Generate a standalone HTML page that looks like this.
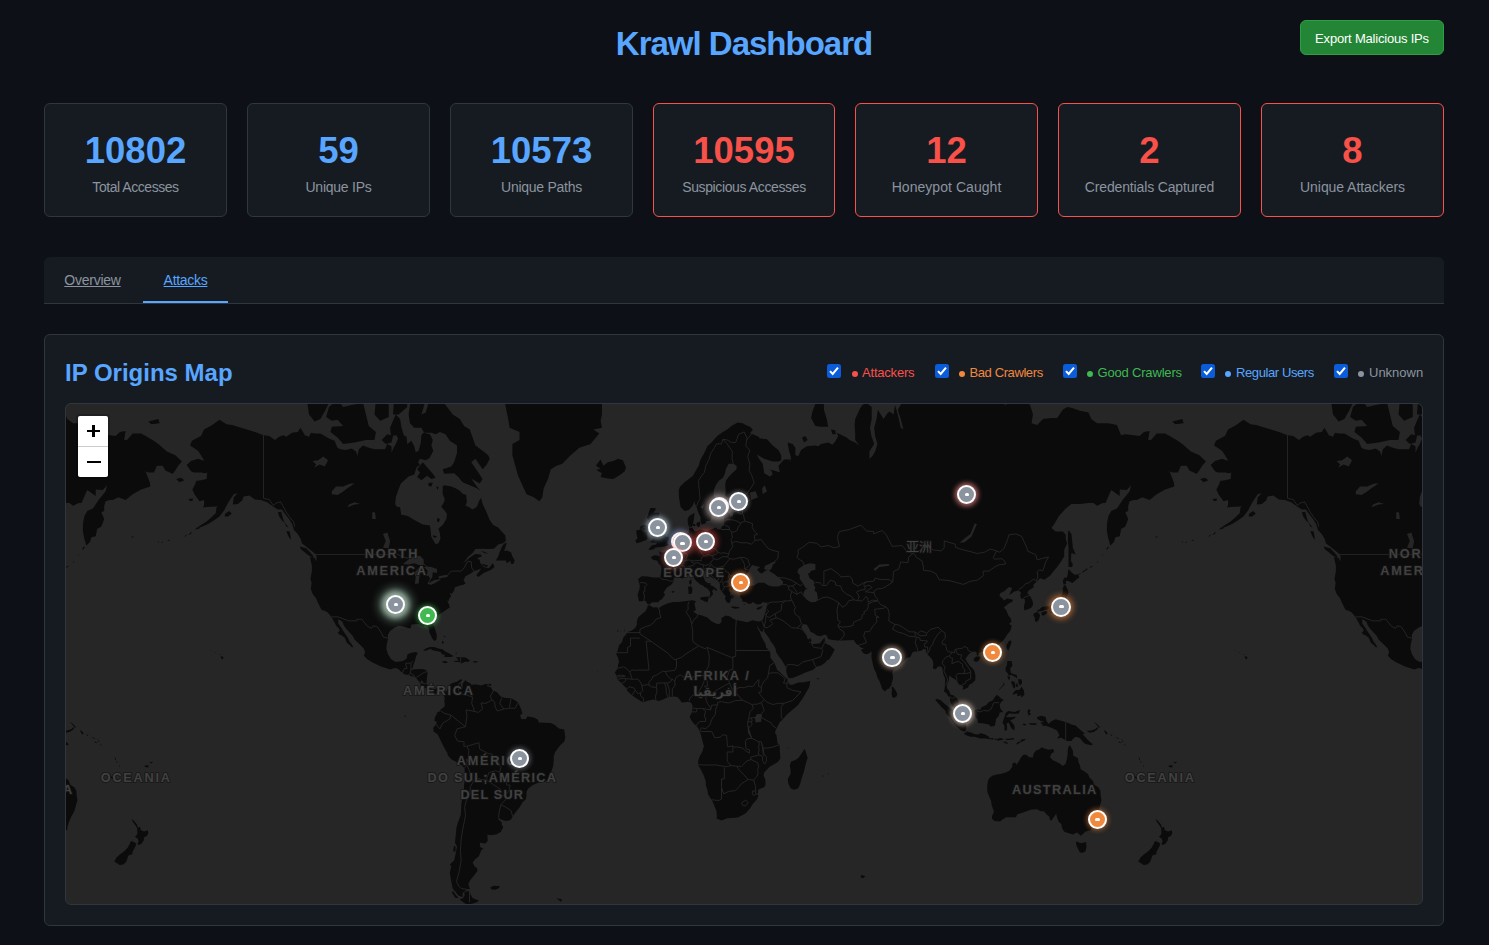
<!DOCTYPE html>
<html lang="en"><head><meta charset="utf-8"><title>Krawl Dashboard</title>
<style>
*{box-sizing:border-box}
html,body{margin:0;padding:0}
body{width:1489px;height:945px;overflow:hidden;background:#0d1117;color:#c9d1d9;font-family:"Liberation Sans",sans-serif;position:relative}
.abs{position:absolute}
h1{position:absolute;left:0;top:21.8px;width:1489px;margin:0;text-align:center;color:#58a6ff;font-size:33px;line-height:44px;font-weight:bold;white-space:nowrap;letter-spacing:-1px;padding-right:1px}
.btn{position:absolute;left:1300px;top:20px;width:144px;height:35px;background:#238636;border:1px solid #2ea043;border-radius:6px;color:#fff;font-size:13px;line-height:36px;text-align:center;white-space:nowrap;letter-spacing:-.2px}
.card{position:absolute;top:103px;height:114px;background:#161b22;border:1px solid #30363d;border-radius:6px;text-align:center}
.card.alert{border-color:#f85149}
.card .v{position:absolute;left:0;right:0;top:25px;font-size:36.5px;line-height:44px;font-weight:bold;color:#58a6ff;white-space:nowrap}
.card.alert .v{color:#f85149}
.card .l{position:absolute;left:0;right:0;top:74px;font-size:14px;line-height:19px;color:#8b949e;white-space:nowrap}
.tabs{position:absolute;left:44px;top:257px;width:1400px;height:47px;background:#161b22;border-bottom:1px solid #30363d;border-radius:6px 6px 0 0}
.tab{position:absolute;top:0;height:46px;border-bottom:2px solid transparent;color:#8b949e;font-size:14px;line-height:19px;padding-top:14px;text-align:center;text-decoration:underline;white-space:nowrap}
.tab.active{color:#58a6ff;border-bottom-color:#58a6ff}
.panel{position:absolute;left:44px;top:334px;width:1400px;height:592px;background:#161b22;border:1px solid #30363d;border-radius:6px}
h2{position:absolute;left:65px;top:356.5px;margin:0;color:#58a6ff;font-size:24px;line-height:32px;font-weight:bold;white-space:nowrap}
.lg{position:absolute;top:364px;font-size:13px;line-height:17px;white-space:nowrap}
.cb{position:absolute;top:364px;width:14px;height:14px;border-radius:2.5px;background:#0b5cd8}
.cb svg{position:absolute;left:0;top:0}
.dot{position:absolute;top:370.5px;width:6px;height:6px;border-radius:50%}
.map{position:absolute;left:65px;top:403px;width:1358px;height:502px;border:1px solid #30363d;border-radius:6px;background:#262626;overflow:hidden}
.map svg.land{position:absolute;left:0;top:0}
.zc{position:absolute;left:10px;top:10px;width:34px;height:65px;border:2px solid rgba(0,0,0,.2);border-radius:4px;background-clip:padding-box}
.zc div{position:absolute;left:0;width:30px;height:30px;background:#fff}
.zc .zi{top:0;border-radius:2px 2px 0 0;border-bottom:1px solid #ccc;height:31px}
.zc .zo{top:31px;border-radius:0 0 2px 2px}
.zc b{position:absolute;background:#000}
.mk{position:absolute;width:19px;height:19px;border:2px solid #fff;border-radius:50%}
.mk i{position:absolute;left:50%;top:50%;margin:-1.4px 0 0 -1.8px;width:4.4px;height:3px;background:#fff;border-radius:1.5px 1.5px 1px 1px}

</style></head>
<body>
<h1>Krawl Dashboard</h1>
<div class="btn">Export Malicious IPs</div>

<div class="card" style="left:44px;width:183px"><div class="v">10802</div><div class="l" style="letter-spacing:-0.45px">Total Accesses</div></div>
<div class="card" style="left:247px;width:183px"><div class="v">59</div><div class="l" style="letter-spacing:-0.25px">Unique IPs</div></div>
<div class="card" style="left:450px;width:183px"><div class="v">10573</div><div class="l" style="letter-spacing:-0.27px">Unique Paths</div></div>
<div class="card alert" style="left:653px;width:182px"><div class="v">10595</div><div class="l" style="letter-spacing:-0.38px">Suspicious Accesses</div></div>
<div class="card alert" style="left:855px;width:183px"><div class="v">12</div><div class="l" style="letter-spacing:0.05px">Honeypot Caught</div></div>
<div class="card alert" style="left:1058px;width:183px"><div class="v">2</div><div class="l" style="letter-spacing:-0.15px">Credentials Captured</div></div>
<div class="card alert" style="left:1261px;width:183px"><div class="v">8</div><div class="l" style="letter-spacing:-0.06px">Unique Attackers</div></div>

<div class="tabs">
  <div class="tab" style="left:0;width:97px;letter-spacing:-.25px">Overview</div>
  <div class="tab active" style="left:99px;width:85px;letter-spacing:-.3px">Attacks</div>
</div>

<div class="panel"></div>
<h2>IP Origins Map</h2>

<div class="cb" style="left:827px"><svg width="14" height="14" viewBox="0 0 13 13"><path d="M2.8 6.6 L5.3 9.2 L10.2 3.4" fill="none" stroke="#fff" stroke-width="1.9"/></svg></div>
<div class="dot" style="left:851.5px;background:#f85149"></div>
<div class="lg" style="left:862px;color:#f85149;letter-spacing:-.2px">Attackers</div>
<div class="cb" style="left:935px"><svg width="14" height="14" viewBox="0 0 13 13"><path d="M2.8 6.6 L5.3 9.2 L10.2 3.4" fill="none" stroke="#fff" stroke-width="1.9"/></svg></div>
<div class="dot" style="left:959px;background:#f0883e"></div>
<div class="lg" style="left:969.5px;color:#f0883e;letter-spacing:-.4px">Bad Crawlers</div>
<div class="cb" style="left:1063px"><svg width="14" height="14" viewBox="0 0 13 13"><path d="M2.8 6.6 L5.3 9.2 L10.2 3.4" fill="none" stroke="#fff" stroke-width="1.9"/></svg></div>
<div class="dot" style="left:1087px;background:#3fb950"></div>
<div class="lg" style="left:1097.5px;color:#3fb950;letter-spacing:-.18px">Good Crawlers</div>
<div class="cb" style="left:1201px"><svg width="14" height="14" viewBox="0 0 13 13"><path d="M2.8 6.6 L5.3 9.2 L10.2 3.4" fill="none" stroke="#fff" stroke-width="1.9"/></svg></div>
<div class="dot" style="left:1225px;background:#58a6ff"></div>
<div class="lg" style="left:1236px;color:#58a6ff;letter-spacing:-.4px">Regular Users</div>
<div class="cb" style="left:1334px"><svg width="14" height="14" viewBox="0 0 13 13"><path d="M2.8 6.6 L5.3 9.2 L10.2 3.4" fill="none" stroke="#fff" stroke-width="1.9"/></svg></div>
<div class="dot" style="left:1358px;background:#8b949e"></div>
<div class="lg" style="left:1369px;color:#8b949e">Unknown</div>

<div class="map">
<svg class="land" width="1356" height="500" viewBox="0 0 1356 500">
<path fill="#0b0b0b" d="M120.7,61.1L125.0,56.9L132.1,54.8L138.4,56.9L135.0,51.2L132.1,46.8L124.1,41.5L125.9,36.8L135.0,32.0L138.1,25.4L146.3,21.1L153.4,15.8L160.6,20.2L166.2,21.1L177.6,24.5L189.0,27.9L197.5,31.2L203.2,32.0L208.9,36.0L213.2,32.8L217.4,31.2L220.3,32.8L226.0,28.7L231.7,27.9L234.5,23.7L238.8,31.2L243.0,32.8L245.0,28.7L248.7,29.5L254.4,29.5L263.0,34.4L268.6,36.8L271.5,43.8L274.3,45.3L280.0,46.0L285.7,44.5L290.0,47.5L291.4,51.9L292.8,45.3L297.1,41.5L302.8,43.8L308.5,45.3L314.2,45.3L319.0,45.3L321.3,39.9L325.5,42.2L325.5,49.0L327.5,43.8L329.8,39.9L332.1,34.4L330.4,31.2L325.0,32.0L324.1,23.7L327.0,16.7L329.8,10.4L334.1,14.9L335.5,23.7L337.8,31.2L340.6,32.8L341.2,39.9L345.4,36.8L348.3,42.2L349.7,48.3L352.6,46.8L354.8,39.1L355.4,31.2L357.4,28.7L363.9,30.3L366.8,36.0L365.4,41.5L367.3,46.8L363.6,54.1L359.7,56.2L354.0,54.8L352.0,58.3L354.0,61.1L350.6,63.2L348.3,70.5L342.6,72.4L339.8,75.0L334.9,79.4L332.6,84.9L329.8,93.2L329.2,100.0L330.7,102.8L334.1,103.3L335.2,110.8L339.8,111.4L342.6,112.4L348.3,116.0L356.8,120.6L363.9,121.6L364.8,127.5L365.1,132.3L367.1,136.0L369.6,140.2L372.5,139.2L374.5,134.6L373.9,129.4L372.5,124.6L376.7,121.1L380.4,115.0L381.0,109.8L378.2,106.0L375.3,102.8L378.2,97.8L378.7,94.9L376.7,90.3L376.7,82.5L378.2,81.3L385.3,82.5L389.5,84.3L393.8,86.7L396.6,89.7L400.1,90.9L400.9,97.8L399.5,101.7L402.3,102.8L406.6,105.5L410.9,102.8L412.9,97.2L415.1,93.8L416.6,100.0L420.0,107.1L423.7,116.0L427.1,121.1L432.2,123.6L435.6,127.5L439.3,131.3L439.9,136.9L437.0,139.2L432.2,140.6L427.9,144.7L422.2,145.1L416.6,144.7L409.4,145.1L406.6,149.1L402.3,152.5L398.1,158.0L396.6,159.3L399.5,157.6L403.8,153.4L409.4,149.9L415.1,150.4L415.7,152.5L410.9,154.2L413.7,155.9L414.3,158.9L416.6,162.2L419.4,163.4L422.8,164.2L425.1,161.4L426.8,158.9L428.5,163.0L425.1,165.8L418.0,168.7L412.3,173.0L410.3,171.0L413.7,167.1L415.1,164.6L410.9,166.3L408.0,167.1L403.8,169.9L399.5,172.2L397.5,176.1L399.5,179.6L397.5,180.7L393.8,181.5L388.7,183.4L388.1,186.4L385.8,190.1L383.8,188.6L385.0,191.9L383.3,194.8L382.4,197.3L381.0,196.6L381.9,198.0L383.3,201.5L383.8,203.6L381.0,205.3L377.3,207.8L373.9,210.1L369.6,213.5L367.6,216.2L367.1,219.5L369.3,226.1L370.8,230.9L370.5,235.6L368.5,236.9L366.2,234.4L363.4,228.6L363.1,224.4L360.2,221.2L356.8,222.5L352.6,219.9L348.3,220.2L345.4,220.5L344.6,224.4L341.2,223.8L337.5,222.5L332.6,221.8L328.9,223.5L324.1,226.7L321.8,230.9L322.1,234.7L320.7,240.3L320.4,245.6L322.1,250.5L324.7,254.7L327.0,256.5L329.8,258.0L334.1,257.4L337.5,256.8L340.6,254.7L341.5,250.2L345.4,248.7L349.7,248.1L351.7,249.0L350.0,252.6L348.9,257.1L347.7,260.1L346.9,263.1L346.0,265.2L349.7,265.2L354.0,264.9L358.2,265.2L361.7,267.5L361.1,271.9L360.8,276.3L360.5,279.2L362.5,282.1L364.8,284.4L368.2,285.6L371.6,283.8L375.3,283.8L378.4,285.9L380.1,287.9L382.4,284.1L383.8,280.7L385.8,279.2L391.0,277.8L393.8,275.7L395.8,275.2L395.8,276.9L394.4,279.2L394.9,282.1L396.6,284.1L396.6,279.8L399.5,276.0L400.9,277.8L404.3,279.2L405.2,280.7L410.9,280.4L415.1,281.5L419.4,280.1L422.2,280.1L420.8,282.1L425.1,283.6L426.5,286.4L430.8,287.9L435.0,292.7L439.3,293.9L445.0,294.2L449.3,296.5L452.1,298.5L455.0,305.0L456.4,309.3L454.1,311.6L455.5,315.3L460.1,315.0L461.2,312.4L463.5,312.7L467.8,313.5L472.0,315.8L472.6,318.4L479.1,318.7L484.8,319.0L489.1,321.2L492.8,324.4L498.2,325.5L499.3,333.5L498.2,337.8L494.8,340.7L492.5,343.6L489.1,348.0L487.7,352.4L487.7,356.8L487.1,362.2L485.4,367.3L484.0,369.7L482.0,374.9L479.1,378.0L475.7,378.0L471.5,378.9L466.9,381.1L462.6,384.2L460.6,387.3L460.4,392.1L459.8,395.3L456.4,398.6L453.5,403.5L450.1,407.5L446.7,412.6L445.0,415.4L442.2,416.7L438.7,416.7L435.0,415.4L432.5,413.6L432.5,415.7L435.6,418.1L435.9,421.6L437.3,422.4L435.0,427.7L430.8,430.3L425.1,431.3L421.4,430.6L421.7,436.9L419.4,439.5L413.7,438.8L414.3,443.3L417.4,444.5L415.1,446.4L412.9,452.3L409.4,455.1L406.6,458.4L408.6,462.5L411.4,464.6L411.2,467.6L406.6,473.2L403.8,476.7L402.3,479.9L404.0,485.8L400.9,485.8L396.6,489.1L396.6,492.9L392.4,491.5L389.5,487.7L386.7,484.5L385.3,477.6L383.8,468.9L385.3,462.5L383.8,460.5L388.1,456.4L389.5,450.4L391.0,442.6L389.0,438.8L389.5,433.2L390.1,427.7L390.4,424.1L391.8,418.8L394.4,411.9L394.9,410.2L395.2,403.5L395.5,398.6L396.6,393.7L397.8,387.3L398.1,381.1L398.9,374.9L398.9,368.8L398.4,364.0L395.2,360.7L391.0,358.3L385.3,355.3L381.6,350.9L381.6,349.5L379.0,345.1L376.7,340.7L374.7,336.4L372.5,332.1L371.0,329.8L367.6,327.8L367.3,323.5L369.9,320.7L371.0,317.8L368.5,317.0L368.8,313.5L370.5,310.7L371.0,308.4L373.9,307.3L374.5,305.6L378.2,303.0L379.0,299.9L378.2,297.9L378.7,295.0L378.2,292.2L377.0,290.2L375.6,287.9L376.7,286.4L373.9,285.0L372.5,285.3L371.0,287.0L369.9,289.6L368.5,290.2L367.6,288.7L366.2,287.9L363.1,287.3L360.5,286.1L360.8,285.0L357.4,282.7L354.8,282.4L354.5,279.2L352.0,276.3L349.7,273.4L349.1,272.5L345.4,272.2L342.6,271.1L338.3,270.2L336.1,268.7L332.6,265.2L329.8,264.0L327.8,264.3L324.1,265.5L319.8,264.0L314.4,262.2L309.9,260.1L305.6,258.0L301.4,255.3L298.5,252.6L297.9,251.4L299.1,248.1L297.7,244.4L296.0,242.8L292.0,238.8L288.6,235.6L287.1,232.5L284.3,229.3L282.9,227.7L280.0,224.4L277.7,221.2L276.6,217.9L274.3,216.2L272.1,215.2L272.3,219.5L275.8,224.4L277.7,227.7L280.0,230.9L282.0,234.1L283.7,237.8L285.7,240.3L287.1,242.8L286.0,243.8L284.9,241.9L280.9,238.8L279.5,235.6L278.6,233.4L275.8,231.5L272.9,230.2L271.8,228.3L273.8,227.0L272.9,224.4L270.1,221.8L268.6,218.5L266.7,215.2L265.5,212.9L261.8,208.4L258.7,206.7L255.6,206.0L253.6,201.9L251.9,198.7L250.2,194.4L246.7,190.1L244.8,184.9L245.6,178.8L244.5,175.0L245.9,167.1L245.9,161.8L243.9,153.0L248.7,153.8L250.2,157.6L250.7,152.5L248.2,149.1L244.5,146.0L238.8,141.5L235.9,139.2L234.5,134.6L231.7,129.9L228.0,126.0L226.0,120.1L223.1,115.0L218.9,109.8L216.0,105.5L211.8,105.5L207.5,102.8L201.2,98.3L194.7,96.1L189.0,95.5L183.3,91.5L177.6,92.6L176.2,96.6L171.9,100.0L166.8,100.6L167.7,93.2L171.9,89.1L167.7,90.3L164.8,94.4L162.0,98.9L160.0,102.8L157.7,107.1L153.4,112.4L147.8,116.5L142.1,120.1L136.4,122.6L133.5,123.6L129.8,124.6L135.0,121.1L140.6,117.6L146.3,112.4L149.7,109.3L150.6,103.3L152.0,102.2L147.8,102.8L143.5,102.8L138.4,103.3L137.2,103.9L138.4,98.9L137.8,96.1L133.5,97.2L130.7,93.2L128.4,90.3L126.4,85.5L129.3,80.0L130.1,76.9L135.0,76.3L140.6,75.0L141.2,68.5L139.2,69.2L135.0,68.5L128.1,68.5L125.0,67.2ZM1144.7,61.1L1149.0,56.9L1156.1,54.8L1162.4,56.9L1159.0,51.2L1156.1,46.8L1148.1,41.5L1149.9,36.8L1159.0,32.0L1162.1,25.4L1170.3,21.1L1177.4,15.8L1184.6,20.2L1190.2,21.1L1201.6,24.5L1213.0,27.9L1221.5,31.2L1227.2,32.0L1232.9,36.0L1237.2,32.8L1241.4,31.2L1244.3,32.8L1250.0,28.7L1255.7,27.9L1258.5,23.7L1262.8,31.2L1267.0,32.8L1269.0,28.7L1272.7,29.5L1278.4,29.5L1287.0,34.4L1292.6,36.8L1295.5,43.8L1298.3,45.3L1304.0,46.0L1309.7,44.5L1314.0,47.5L1315.4,51.9L1316.8,45.3L1321.1,41.5L1326.8,43.8L1332.5,45.3L1338.2,45.3L1343.0,45.3L1345.3,39.9L1349.5,42.2L1349.5,49.0L1351.5,43.8L1353.8,39.9L1356.1,34.4L1354.4,31.2L1349.0,32.0L1348.1,23.7L1351.0,16.7L1353.8,10.4L1358.1,14.9L1359.5,23.7L1361.8,31.2L1364.6,32.8L1365.2,39.9L1369.4,36.8L1372.3,42.2L1373.7,48.3L1376.6,46.8L1378.8,39.1L1379.4,31.2L1381.4,28.7L1387.9,30.3L1390.8,36.0L1389.4,41.5L1391.3,46.8L1387.6,54.1L1383.7,56.2L1378.0,54.8L1376.0,58.3L1378.0,61.1L1374.6,63.2L1372.3,70.5L1366.6,72.4L1363.8,75.0L1358.9,79.4L1356.6,84.9L1353.8,93.2L1353.2,100.0L1354.7,102.8L1358.1,103.3L1359.2,110.8L1363.8,111.4L1366.6,112.4L1372.3,116.0L1380.8,120.6L1387.9,121.6L1388.8,127.5L1389.1,132.3L1391.1,136.0L1393.6,140.2L1396.5,139.2L1398.5,134.6L1397.9,129.4L1396.5,124.6L1400.7,121.1L1404.4,115.0L1405.0,109.8L1402.2,106.0L1399.3,102.8L1402.2,97.8L1402.7,94.9L1400.7,90.3L1400.7,82.5L1402.2,81.3L1409.3,82.5L1413.5,84.3L1417.8,86.7L1420.6,89.7L1424.1,90.9L1424.9,97.8L1423.5,101.7L1426.3,102.8L1430.6,105.5L1434.9,102.8L1436.9,97.2L1439.1,93.8L1440.6,100.0L1444.0,107.1L1447.7,116.0L1451.1,121.1L1456.2,123.6L1459.6,127.5L1463.3,131.3L1463.9,136.9L1461.0,139.2L1456.2,140.6L1451.9,144.7L1446.2,145.1L1440.6,144.7L1433.4,145.1L1430.6,149.1L1426.3,152.5L1422.1,158.0L1420.6,159.3L1423.5,157.6L1427.8,153.4L1433.4,149.9L1439.1,150.4L1439.7,152.5L1434.9,154.2L1437.7,155.9L1438.3,158.9L1440.6,162.2L1443.4,163.4L1446.8,164.2L1449.1,161.4L1450.8,158.9L1452.5,163.0L1449.1,165.8L1442.0,168.7L1436.3,173.0L1434.3,171.0L1437.7,167.1L1439.1,164.6L1434.9,166.3L1432.0,167.1L1427.8,169.9L1423.5,172.2L1421.5,176.1L1423.5,179.6L1421.5,180.7L1417.8,181.5L1412.7,183.4L1412.1,186.4L1409.8,190.1L1407.8,188.6L1409.0,191.9L1407.3,194.8L1406.4,197.3L1405.0,196.6L1405.9,198.0L1407.3,201.5L1407.8,203.6L1405.0,205.3L1401.3,207.8L1397.9,210.1L1393.6,213.5L1391.6,216.2L1391.1,219.5L1393.3,226.1L1394.8,230.9L1394.5,235.6L1392.5,236.9L1390.2,234.4L1387.4,228.6L1387.1,224.4L1384.2,221.2L1380.8,222.5L1376.6,219.9L1372.3,220.2L1369.4,220.5L1368.6,224.4L1365.2,223.8L1361.5,222.5L1356.6,221.8L1352.9,223.5L1348.1,226.7L1345.8,230.9L1346.1,234.7L1344.7,240.3L1344.4,245.6L1346.1,250.5L1348.7,254.7L1351.0,256.5L1353.8,258.0L1358.1,257.4L1361.5,256.8L1364.6,254.7L1365.5,250.2L1369.4,248.7L1373.7,248.1L1375.7,249.0L1374.0,252.6L1372.9,257.1L1371.7,260.1L1370.9,263.1L1370.0,265.2L1373.7,265.2L1378.0,264.9L1382.2,265.2L1385.7,267.5L1385.1,271.9L1384.8,276.3L1384.5,279.2L1386.5,282.1L1388.8,284.4L1392.2,285.6L1395.6,283.8L1399.3,283.8L1402.4,285.9L1404.1,287.9L1406.4,284.1L1407.8,280.7L1409.8,279.2L1415.0,277.8L1417.8,275.7L1419.8,275.2L1419.8,276.9L1418.4,279.2L1418.9,282.1L1420.6,284.1L1420.6,279.8L1423.5,276.0L1424.9,277.8L1428.3,279.2L1429.2,280.7L1434.9,280.4L1439.1,281.5L1443.4,280.1L1446.2,280.1L1444.8,282.1L1449.1,283.6L1450.5,286.4L1454.8,287.9L1459.0,292.7L1463.3,293.9L1469.0,294.2L1473.3,296.5L1476.1,298.5L1479.0,305.0L1480.4,309.3L1478.1,311.6L1479.5,315.3L1484.1,315.0L1485.2,312.4L1487.5,312.7L1491.8,313.5L1496.0,315.8L1496.6,318.4L1503.1,318.7L1508.8,319.0L1513.1,321.2L1516.8,324.4L1522.2,325.5L1523.3,333.5L1522.2,337.8L1518.8,340.7L1516.5,343.6L1513.1,348.0L1511.7,352.4L1511.7,356.8L1511.1,362.2L1509.4,367.3L1508.0,369.7L1506.0,374.9L1503.1,378.0L1499.7,378.0L1495.5,378.9L1490.9,381.1L1486.6,384.2L1484.6,387.3L1484.4,392.1L1483.8,395.3L1480.4,398.6L1477.5,403.5L1474.1,407.5L1470.7,412.6L1469.0,415.4L1466.2,416.7L1462.7,416.7L1459.0,415.4L1456.5,413.6L1456.5,415.7L1459.6,418.1L1459.9,421.6L1461.3,422.4L1459.0,427.7L1454.8,430.3L1449.1,431.3L1445.4,430.6L1445.7,436.9L1443.4,439.5L1437.7,438.8L1438.3,443.3L1441.4,444.5L1439.1,446.4L1436.9,452.3L1433.4,455.1L1430.6,458.4L1432.6,462.5L1435.4,464.6L1435.2,467.6L1430.6,473.2L1427.8,476.7L1426.3,479.9L1428.0,485.8L1424.9,485.8L1420.6,489.1L1420.6,492.9L1416.4,491.5L1413.5,487.7L1410.7,484.5L1409.3,477.6L1407.8,468.9L1409.3,462.5L1407.8,460.5L1412.1,456.4L1413.5,450.4L1415.0,442.6L1413.0,438.8L1413.5,433.2L1414.1,427.7L1414.4,424.1L1415.8,418.8L1418.4,411.9L1418.9,410.2L1419.2,403.5L1419.5,398.6L1420.6,393.7L1421.8,387.3L1422.1,381.1L1422.9,374.9L1422.9,368.8L1422.4,364.0L1419.2,360.7L1415.0,358.3L1409.3,355.3L1405.6,350.9L1405.6,349.5L1403.0,345.1L1400.7,340.7L1398.7,336.4L1396.5,332.1L1395.0,329.8L1391.6,327.8L1391.3,323.5L1393.9,320.7L1395.0,317.8L1392.5,317.0L1392.8,313.5L1394.5,310.7L1395.0,308.4L1397.9,307.3L1398.5,305.6L1402.2,303.0L1403.0,299.9L1402.2,297.9L1402.7,295.0L1402.2,292.2L1401.0,290.2L1399.6,287.9L1400.7,286.4L1397.9,285.0L1396.5,285.3L1395.0,287.0L1393.9,289.6L1392.5,290.2L1391.6,288.7L1390.2,287.9L1387.1,287.3L1384.5,286.1L1384.8,285.0L1381.4,282.7L1378.8,282.4L1378.5,279.2L1376.0,276.3L1373.7,273.4L1373.1,272.5L1369.4,272.2L1366.6,271.1L1362.3,270.2L1360.1,268.7L1356.6,265.2L1353.8,264.0L1351.8,264.3L1348.1,265.5L1343.8,264.0L1338.4,262.2L1333.9,260.1L1329.6,258.0L1325.4,255.3L1322.5,252.6L1321.9,251.4L1323.1,248.1L1321.7,244.4L1320.0,242.8L1316.0,238.8L1312.6,235.6L1311.1,232.5L1308.3,229.3L1306.9,227.7L1304.0,224.4L1301.7,221.2L1300.6,217.9L1298.3,216.2L1296.1,215.2L1296.3,219.5L1299.8,224.4L1301.7,227.7L1304.0,230.9L1306.0,234.1L1307.7,237.8L1309.7,240.3L1311.1,242.8L1310.0,243.8L1308.9,241.9L1304.9,238.8L1303.5,235.6L1302.6,233.4L1299.8,231.5L1296.9,230.2L1295.8,228.3L1297.8,227.0L1296.9,224.4L1294.1,221.8L1292.6,218.5L1290.7,215.2L1289.5,212.9L1285.8,208.4L1282.7,206.7L1279.6,206.0L1277.6,201.9L1275.9,198.7L1274.2,194.4L1270.7,190.1L1268.8,184.9L1269.6,178.8L1268.5,175.0L1269.9,167.1L1269.9,161.8L1267.9,153.0L1272.7,153.8L1274.2,157.6L1274.7,152.5L1272.2,149.1L1268.5,146.0L1262.8,141.5L1259.9,139.2L1258.5,134.6L1255.7,129.9L1252.0,126.0L1250.0,120.1L1247.1,115.0L1242.9,109.8L1240.0,105.5L1235.8,105.5L1231.5,102.8L1225.2,98.3L1218.7,96.1L1213.0,95.5L1207.3,91.5L1201.6,92.6L1200.2,96.6L1195.9,100.0L1190.8,100.6L1191.7,93.2L1195.9,89.1L1191.7,90.3L1188.8,94.4L1186.0,98.9L1184.0,102.8L1181.7,107.1L1177.4,112.4L1171.8,116.5L1166.1,120.1L1160.4,122.6L1157.5,123.6L1153.8,124.6L1159.0,121.1L1164.6,117.6L1170.3,112.4L1173.7,109.3L1174.6,103.3L1176.0,102.2L1171.8,102.8L1167.5,102.8L1162.4,103.3L1161.2,103.9L1162.4,98.9L1161.8,96.1L1157.5,97.2L1154.7,93.2L1152.4,90.3L1150.4,85.5L1153.3,80.0L1154.1,76.9L1159.0,76.3L1164.6,75.0L1165.2,68.5L1163.2,69.2L1159.0,68.5L1152.1,68.5L1149.0,67.2ZM391.0,-59.2L405.2,-78.4L413.7,-103.6L427.9,-122.9L456.4,-133.4L484.8,-151.8L513.3,-159.3L541.7,-122.9L564.5,-111.0L550.2,-86.3L544.6,-63.4L546.0,-37.1L541.7,-19.7L543.1,-9.1L536.0,-1.0L536.0,10.4L534.6,16.7L536.0,23.7L527.5,25.4L533.2,29.5L524.6,39.9L513.3,43.8L504.7,51.2L496.2,59.7L490.5,61.8L484.8,65.2L482.0,75.0L477.7,84.3L476.3,93.2L473.4,97.2L467.8,93.2L460.6,90.3L456.4,81.3L452.1,71.8L449.3,61.8L446.4,51.2L446.4,39.9L453.5,36.0L453.5,27.9L443.6,23.7L442.2,14.9L439.3,0.9L435.0,-14.3L427.9,-28.8L419.4,-33.5L408.0,-31.1L396.6,-43.3ZM-451.0,197.3L-452.4,191.1L-450.7,185.6L-450.1,181.9L-451.9,175.0L-448.2,172.2L-442.5,172.6L-436.8,173.4L-431.1,173.4L-429.7,173.0L-428.8,168.7L-428.5,164.6L-428.8,162.2L-431.7,158.9L-432.5,156.8L-437.6,155.5L-439.1,153.0L-435.4,151.2L-430.0,152.1L-430.8,147.3L-428.8,148.6L-424.8,148.2L-421.1,145.5L-420.3,142.0L-416.9,140.2L-414.0,136.9L-412.0,132.3L-409.8,130.8L-405.5,130.4L-401.8,129.4L-400.9,127.5L-400.7,123.1L-402.1,120.1L-402.4,115.0L-400.9,111.9L-395.5,108.7L-396.1,115.0L-397.0,120.1L-398.1,122.6L-397.0,125.1L-394.7,127.5L-394.1,127.5L-389.8,125.5L-387.0,126.0L-384.7,128.0L-379.9,126.0L-374.2,123.6L-371.9,125.5L-369.1,125.1L-368.5,123.1L-365.7,121.1L-365.7,117.6L-365.7,112.4L-363.7,109.3L-361.1,108.7L-359.4,112.4L-357.1,111.9L-356.0,107.1L-358.6,103.3L-358.6,100.6L-355.1,98.9L-351.4,98.3L-345.8,98.9L-339.5,96.6L-342.9,94.9L-344.3,92.6L-350.0,93.8L-354.3,94.9L-360.0,96.6L-362.3,93.8L-364.8,91.5L-364.2,87.3L-364.8,81.3L-364.2,76.9L-361.4,73.1L-357.1,68.5L-353.4,65.2L-353.4,61.8L-356.6,59.7L-361.4,59.7L-364.2,65.2L-365.1,69.8L-367.1,73.7L-371.4,76.9L-374.2,81.3L-376.2,86.1L-376.5,92.0L-372.8,94.9L-372.8,99.5L-375.6,103.3L-377.9,107.1L-378.2,110.8L-378.8,114.5L-379.9,117.1L-383.6,117.1L-384.7,119.6L-388.4,120.6L-388.7,119.1L-389.6,116.0L-389.3,113.5L-391.6,108.7L-393.5,102.8L-395.0,100.0L-395.5,97.2L-397.5,101.7L-401.2,106.0L-405.5,107.1L-409.5,102.8L-410.6,96.1L-411.2,91.5L-411.2,85.5L-409.8,82.5L-405.5,78.2L-401.2,75.0L-397.0,71.8L-394.1,66.5L-391.3,61.8L-389.8,56.2L-387.0,51.2L-384.2,46.0L-382.7,42.2L-378.5,38.4L-372.8,32.0L-367.1,27.9L-362.8,25.4L-358.6,21.9L-352.3,18.5L-347.2,19.3L-344.3,21.1L-340.1,22.8L-337.2,25.4L-340.1,29.5L-337.2,30.3L-331.5,32.8L-330.1,34.4L-323.0,35.2L-317.3,41.5L-311.6,46.0L-308.8,51.2L-308.8,56.2L-311.6,57.6L-317.3,57.6L-325.8,54.8L-333.0,50.5L-331.5,54.1L-327.3,59.7L-326.4,65.2L-325.8,69.2L-320.2,72.4L-317.3,70.5L-318.7,66.5L-321.6,65.2L-315.9,66.5L-311.6,67.9L-310.2,67.9L-311.6,61.8L-305.9,55.5L-300.2,55.5L-299.7,51.2L-300.2,58.3L-298.8,54.1L-300.8,47.5L-302.2,39.9L-302.2,38.4L-297.4,39.9L-294.6,43.8L-294.6,51.2L-291.7,51.9L-288.9,46.0L-283.2,42.2L-274.6,41.5L-271.8,42.2L-269.0,39.9L-261.8,38.4L-257.6,40.7L-254.7,37.6L-251.9,32.0L-253.3,28.7L-243.4,33.6L-240.5,36.0L-234.8,38.4L-230.6,41.5L-234.8,36.0L-234.8,30.3L-235.4,21.1L-234.8,14.9L-230.6,5.7L-227.7,0.9L-223.4,-1.0L-218.3,2.9L-218.3,14.9L-220.0,23.7L-218.6,32.0L-215.8,39.9L-220.6,47.5L-220.6,54.8L-217.8,52.6L-214.9,47.5L-212.6,39.9L-214.9,32.0L-215.8,23.7L-213.5,14.9L-212.1,5.7L-209.2,10.4L-206.4,14.9L-203.5,10.4L-200.7,7.6L-196.4,10.4L-195.0,0.9L-192.2,10.4L-189.3,23.7L-186.5,25.4L-189.3,14.9L-192.2,5.7L-186.5,-4.0L-179.4,-7.0L-177.9,-14.3L-169.4,-25.3L-155.2,-31.1L-141.0,-37.1L-129.6,-52.4L-121.0,-37.1L-106.8,-37.1L-104.0,-25.3L-112.5,-14.3L-104.0,-6.0L-112.5,-7.0L-121.0,-1.0L-123.9,1.9L-119.6,-3.0L-102.6,-4.0L-98.3,-6.0L-89.8,-1.0L-84.1,0.9L-75.5,-6.0L-67.0,-4.0L-59.9,0.9L-57.0,10.4L-58.5,19.3L-52.8,21.1L-47.1,14.9L-38.6,14.0L-32.9,14.0L-27.2,5.7L-22.9,2.9L-18.6,3.8L-10.1,6.7L-1.6,8.5L1.3,14.9L7.0,19.3L18.3,19.3L26.9,21.1L31.1,31.2L35.4,30.3L43.9,31.2L49.6,32.0L53.9,27.9L59.6,27.0L58.2,36.0L61.0,36.0L66.7,29.5L75.2,29.5L80.9,32.8L86.6,36.0L92.3,39.9L100.8,47.5L109.4,51.2L115.9,57.6L112.2,61.8L107.9,68.5L106.5,69.8L99.4,66.5L96.6,61.8L90.9,61.8L88.0,68.5L82.3,68.5L79.5,67.2L83.8,78.2L84.3,82.5L75.2,85.5L66.7,90.3L59.6,96.1L52.5,93.2L46.8,96.1L43.9,96.1L39.7,97.2L38.2,101.7L38.2,107.1L35.4,108.2L38.2,115.0L35.4,122.6L31.1,125.1L29.7,132.3L25.4,133.2L24.0,137.9L20.3,141.5L18.3,134.6L16.9,127.5L16.9,120.1L18.3,112.4L21.2,107.1L26.9,104.4L32.6,96.1L39.7,87.3L41.1,81.3L36.8,86.1L29.7,85.5L29.7,92.0L21.2,86.1L15.5,98.9L12.6,98.9L7.0,101.7L3.5,98.9L-1.6,98.9L-10.1,100.0L-18.6,100.0L-24.3,104.4L-31.4,112.4L-35.7,120.1L-38.6,124.1L-34.3,127.5L-31.4,127.5L-27.2,127.5L-24.3,130.8L-24.3,134.6L-22.9,139.2L-25.8,146.0L-25.8,152.5L-30.0,158.9L-32.9,163.0L-37.1,167.9L-40.0,171.8L-45.7,175.7L-49.9,174.2L-53.6,177.7L-56.5,180.7L-56.5,183.4L-61.3,186.4L-62.7,189.0L-59.9,191.9L-57.3,197.3L-57.0,200.8L-58.5,203.6L-61.3,205.0L-65.6,206.4L-66.1,202.6L-65.0,198.0L-65.3,195.1L-69.0,194.4L-69.8,191.5L-69.0,188.2L-71.8,186.4L-75.5,187.5L-79.2,190.1L-80.7,190.8L-78.9,186.4L-77.8,184.1L-81.2,183.0L-85.5,187.1L-89.8,189.3L-90.6,191.9L-87.5,194.4L-86.3,196.6L-82.6,194.4L-77.0,195.8L-77.5,197.6L-82.1,200.1L-86.1,203.6L-83.5,206.7L-81.8,211.2L-78.9,214.9L-78.7,217.9L-81.2,219.9L-78.4,221.2L-78.9,224.4L-79.8,227.0L-82.6,230.2L-84.9,234.1L-86.9,236.6L-89.8,239.1L-92.6,241.9L-95.4,243.8L-99.7,245.0L-101.1,245.6L-104.0,246.5L-107.7,247.8L-111.1,248.7L-111.7,251.7L-113.1,251.1L-113.4,248.1L-116.8,247.4L-119.6,248.7L-121.9,251.1L-124.5,254.7L-123.0,257.7L-120.5,261.6L-117.3,264.6L-115.4,267.5L-114.5,271.9L-114.8,276.3L-118.2,279.5L-121.0,281.0L-121.9,283.6L-127.3,286.1L-126.7,282.7L-128.2,281.2L-131.0,280.4L-132.4,278.3L-133.8,276.3L-136.7,274.3L-138.4,273.4L-139.5,271.9L-141.0,272.5L-141.0,276.3L-142.4,279.2L-143.2,282.1L-142.9,284.4L-141.0,286.4L-140.1,289.3L-139.2,290.7L-136.7,291.3L-134.7,293.0L-132.4,295.0L-131.3,297.9L-131.3,300.7L-131.0,303.6L-129.0,306.7L-130.4,307.0L-131.3,306.4L-134.7,304.4L-137.3,302.4L-139.0,299.6L-139.8,296.5L-140.1,293.6L-141.8,292.2L-143.8,288.7L-145.8,287.9L-145.8,286.4L-145.2,283.6L-145.2,280.7L-144.7,277.2L-145.2,273.4L-146.6,270.5L-147.2,267.5L-147.8,263.7L-149.5,262.2L-152.3,262.8L-154.3,265.2L-157.2,264.6L-156.6,260.1L-157.2,256.8L-158.9,254.1L-160.9,252.0L-162.9,250.2L-163.7,248.1L-164.3,245.6L-166.6,244.7L-168.0,246.5L-170.8,247.1L-173.7,247.4L-175.7,247.4L-177.9,248.7L-178.5,250.8L-179.9,252.9L-183.1,254.1L-185.9,257.1L-188.5,259.8L-191.3,262.5L-194.1,264.6L-197.0,265.8L-197.8,269.0L-197.0,272.8L-197.3,275.7L-198.4,279.2L-198.4,281.2L-200.1,282.7L-200.7,284.4L-203.0,285.3L-205.0,287.6L-207.8,285.0L-209.2,280.7L-210.6,276.9L-212.6,273.4L-213.8,269.0L-215.8,265.2L-216.9,261.6L-217.8,257.1L-218.3,255.6L-218.6,251.7L-218.3,249.0L-219.2,246.8L-220.0,249.0L-223.4,250.2L-226.3,249.6L-229.1,245.9L-225.4,243.8L-228.3,244.1L-230.6,242.2L-231.4,241.0L-233.4,240.3L-235.4,237.5L-236.2,236.0L-241.9,236.3L-247.6,236.6L-251.9,236.6L-257.6,236.0L-261.8,235.0L-263.3,231.5L-265.3,230.6L-269.5,232.2L-273.2,231.5L-276.1,229.3L-279.5,227.7L-280.9,224.4L-283.2,220.8L-286.0,219.9L-287.4,221.2L-288.9,222.8L-287.4,226.1L-285.2,229.3L-283.2,231.8L-282.6,234.7L-280.9,235.6L-279.8,233.8L-278.6,236.3L-279.2,238.5L-278.1,240.3L-274.6,239.7L-270.4,239.4L-267.5,236.0L-265.5,233.4L-265.0,237.2L-264.1,239.7L-260.4,241.3L-256.2,244.7L-255.3,245.6L-258.1,251.1L-261.0,255.6L-262.7,256.2L-265.3,258.9L-269.0,261.6L-273.2,262.5L-276.9,265.8L-280.3,266.9L-284.6,268.4L-288.9,270.5L-293.1,272.2L-297.4,274.0L-301.1,274.3L-302.2,272.5L-303.7,268.1L-303.7,263.7L-305.9,260.1L-308.2,256.2L-311.6,251.7L-313.9,248.1L-314.5,244.4L-316.5,241.0L-319.3,237.2L-321.0,234.1L-323.9,229.9L-325.8,227.4L-325.8,222.8L-326.7,226.1L-327.8,228.3L-329.5,226.7L-331.0,225.1L-332.7,221.2L-333.5,217.2L-330.1,217.5L-327.8,216.5L-326.4,213.9L-325.8,211.2L-324.4,208.1L-323.6,204.3L-323.0,201.2L-322.4,198.3L-324.4,198.7L-327.0,198.0L-329.5,200.1L-333.0,200.5L-337.2,198.0L-338.6,199.4L-341.2,200.1L-344.3,198.0L-347.7,197.6L-347.7,195.5L-350.0,192.6L-349.2,190.1L-350.9,188.2L-350.6,186.4L-347.2,184.9L-342.9,184.5L-342.9,182.6L-340.1,181.9L-335.8,181.5L-331.5,178.8L-325.8,178.8L-321.6,181.5L-317.3,182.6L-311.6,182.6L-307.4,180.7L-306.8,177.7L-310.2,174.2L-313.0,172.2L-316.5,169.5L-319.3,167.9L-321.0,166.3L-318.7,165.0L-317.3,160.9L-313.9,158.0L-317.3,158.0L-320.7,160.1L-325.0,161.8L-325.8,165.0L-324.4,165.8L-321.9,165.8L-325.0,167.1L-328.1,169.5L-330.1,168.7L-333.0,165.4L-329.8,163.0L-333.5,162.2L-337.8,160.9L-340.6,165.0L-341.2,167.9L-343.8,170.3L-344.0,173.4L-346.0,175.0L-346.6,177.7L-345.8,179.2L-342.9,181.9L-345.8,182.6L-347.7,183.8L-350.6,185.6L-351.4,184.1L-351.4,183.0L-354.3,183.0L-357.1,183.8L-356.3,185.6L-358.6,186.4L-360.0,184.5L-360.5,184.5L-360.8,187.1L-359.4,189.3L-360.0,190.8L-357.1,193.7L-357.1,194.8L-359.4,194.0L-359.1,195.8L-360.3,198.7L-361.7,199.0L-363.4,198.0L-365.1,194.4L-364.2,192.6L-365.7,190.8L-367.1,189.0L-368.5,187.1L-370.2,184.5L-369.9,180.7L-371.4,178.1L-373.3,176.5L-377.0,174.2L-379.9,172.6L-382.2,169.9L-384.2,166.3L-386.1,167.5L-386.7,164.6L-387.0,164.2L-390.1,165.4L-390.1,168.7L-389.6,171.0L-386.7,172.6L-385.0,176.9L-382.2,179.2L-379.3,179.2L-379.9,181.1L-376.5,182.6L-373.3,185.2L-372.8,186.4L-374.2,186.7L-376.5,184.9L-377.9,187.5L-376.8,190.1L-378.5,191.9L-379.9,193.7L-380.7,193.7L-379.9,191.1L-379.9,188.2L-381.3,186.0L-383.3,184.1L-385.0,183.4L-387.0,181.5L-389.8,180.4L-390.7,179.6L-393.5,177.3L-395.5,175.0L-396.4,171.4L-399.8,169.5L-402.6,171.4L-404.6,172.2L-406.9,174.6L-410.3,173.8L-414.0,173.0L-416.3,174.2L-416.6,176.9L-416.3,177.7L-419.1,181.1L-423.1,183.4L-425.4,187.1L-426.3,188.6L-424.8,191.1L-426.8,193.0L-427.7,195.1L-430.2,196.2L-431.7,198.3L-435.4,198.3L-437.9,198.3L-440.5,200.5L-442.5,200.1L-443.3,199.0L-443.9,197.3L-445.3,196.6L-447.9,197.3ZM573.0,197.3L571.6,191.1L573.3,185.6L573.9,181.9L572.1,175.0L575.8,172.2L581.5,172.6L587.2,173.4L592.9,173.4L594.3,173.0L595.2,168.7L595.5,164.6L595.2,162.2L592.3,158.9L591.5,156.8L586.4,155.5L584.9,153.0L588.6,151.2L594.0,152.1L593.2,147.3L595.2,148.6L599.2,148.2L602.9,145.5L603.7,142.0L607.1,140.2L610.0,136.9L612.0,132.3L614.2,130.8L618.5,130.4L622.2,129.4L623.1,127.5L623.3,123.1L621.9,120.1L621.6,115.0L623.1,111.9L628.5,108.7L627.9,115.0L627.0,120.1L625.9,122.6L627.0,125.1L629.3,127.5L629.9,127.5L634.2,125.5L637.0,126.0L639.3,128.0L644.1,126.0L649.8,123.6L652.1,125.5L654.9,125.1L655.5,123.1L658.3,121.1L658.3,117.6L658.3,112.4L660.3,109.3L662.9,108.7L664.6,112.4L666.9,111.9L668.0,107.1L665.4,103.3L665.4,100.6L668.9,98.9L672.6,98.3L678.2,98.9L684.5,96.6L681.1,94.9L679.7,92.6L674.0,93.8L669.7,94.9L664.0,96.6L661.7,93.8L659.2,91.5L659.8,87.3L659.2,81.3L659.8,76.9L662.6,73.1L666.9,68.5L670.6,65.2L670.6,61.8L667.4,59.7L662.6,59.7L659.8,65.2L658.9,69.8L656.9,73.7L652.6,76.9L649.8,81.3L647.8,86.1L647.5,92.0L651.2,94.9L651.2,99.5L648.4,103.3L646.1,107.1L645.8,110.8L645.2,114.5L644.1,117.1L640.4,117.1L639.3,119.6L635.6,120.6L635.3,119.1L634.4,116.0L634.7,113.5L632.4,108.7L630.5,102.8L629.0,100.0L628.5,97.2L626.5,101.7L622.8,106.0L618.5,107.1L614.5,102.8L613.4,96.1L612.8,91.5L612.8,85.5L614.2,82.5L618.5,78.2L622.8,75.0L627.0,71.8L629.9,66.5L632.7,61.8L634.2,56.2L637.0,51.2L639.8,46.0L641.3,42.2L645.5,38.4L651.2,32.0L656.9,27.9L661.2,25.4L665.4,21.9L671.7,18.5L676.8,19.3L679.7,21.1L683.9,22.8L686.8,25.4L683.9,29.5L686.8,30.3L692.5,32.8L693.9,34.4L701.0,35.2L706.7,41.5L712.4,46.0L715.2,51.2L715.2,56.2L712.4,57.6L706.7,57.6L698.2,54.8L691.0,50.5L692.5,54.1L696.7,59.7L697.6,65.2L698.2,69.2L703.8,72.4L706.7,70.5L705.3,66.5L702.4,65.2L708.1,66.5L712.4,67.9L713.8,67.9L712.4,61.8L718.1,55.5L723.8,55.5L724.3,51.2L723.8,58.3L725.2,54.1L723.2,47.5L721.8,39.9L721.8,38.4L726.6,39.9L729.4,43.8L729.4,51.2L732.3,51.9L735.1,46.0L740.8,42.2L749.4,41.5L752.2,42.2L755.0,39.9L762.2,38.4L766.4,40.7L769.3,37.6L772.1,32.0L770.7,28.7L780.6,33.6L783.5,36.0L789.2,38.4L793.4,41.5L789.2,36.0L789.2,30.3L788.6,21.1L789.2,14.9L793.4,5.7L796.3,0.9L800.6,-1.0L805.7,2.9L805.7,14.9L804.0,23.7L805.4,32.0L808.2,39.9L803.4,47.5L803.4,54.8L806.2,52.6L809.1,47.5L811.4,39.9L809.1,32.0L808.2,23.7L810.5,14.9L811.9,5.7L814.8,10.4L817.6,14.9L820.5,10.4L823.3,7.6L827.6,10.4L829.0,0.9L831.8,10.4L834.7,23.7L837.5,25.4L834.7,14.9L831.8,5.7L837.5,-4.0L844.6,-7.0L846.1,-14.3L854.6,-25.3L868.8,-31.1L883.0,-37.1L894.4,-52.4L903.0,-37.1L917.2,-37.1L920.0,-25.3L911.5,-14.3L920.0,-6.0L911.5,-7.0L903.0,-1.0L900.1,1.9L904.4,-3.0L921.4,-4.0L925.7,-6.0L934.2,-1.0L939.9,0.9L948.5,-6.0L957.0,-4.0L964.1,0.9L967.0,10.4L965.5,19.3L971.2,21.1L976.9,14.9L985.4,14.0L991.1,14.0L996.8,5.7L1001.1,2.9L1005.4,3.8L1013.9,6.7L1022.4,8.5L1025.3,14.9L1031.0,19.3L1042.3,19.3L1050.9,21.1L1055.1,31.2L1059.4,30.3L1067.9,31.2L1073.6,32.0L1077.9,27.9L1083.6,27.0L1082.2,36.0L1085.0,36.0L1090.7,29.5L1099.2,29.5L1104.9,32.8L1110.6,36.0L1116.3,39.9L1124.8,47.5L1133.4,51.2L1139.9,57.6L1136.2,61.8L1131.9,68.5L1130.5,69.8L1123.4,66.5L1120.6,61.8L1114.9,61.8L1112.0,68.5L1106.3,68.5L1103.5,67.2L1107.8,78.2L1108.3,82.5L1099.2,85.5L1090.7,90.3L1083.6,96.1L1076.5,93.2L1070.8,96.1L1067.9,96.1L1063.7,97.2L1062.2,101.7L1062.2,107.1L1059.4,108.2L1062.2,115.0L1059.4,122.6L1055.1,125.1L1053.7,132.3L1049.4,133.2L1048.0,137.9L1044.3,141.5L1042.3,134.6L1040.9,127.5L1040.9,120.1L1042.3,112.4L1045.2,107.1L1050.9,104.4L1056.6,96.1L1063.7,87.3L1065.1,81.3L1060.8,86.1L1053.7,85.5L1053.7,92.0L1045.2,86.1L1039.5,98.9L1036.6,98.9L1031.0,101.7L1027.5,98.9L1022.4,98.9L1013.9,100.0L1005.4,100.0L999.7,104.4L992.6,112.4L988.3,120.1L985.4,124.1L989.7,127.5L992.6,127.5L996.8,127.5L999.7,130.8L999.7,134.6L1001.1,139.2L998.2,146.0L998.2,152.5L994.0,158.9L991.1,163.0L986.9,167.9L984.0,171.8L978.3,175.7L974.1,174.2L970.4,177.7L967.5,180.7L967.5,183.4L962.7,186.4L961.3,189.0L964.1,191.9L966.7,197.3L967.0,200.8L965.5,203.6L962.7,205.0L958.4,206.4L957.9,202.6L959.0,198.0L958.7,195.1L955.0,194.4L954.2,191.5L955.0,188.2L952.2,186.4L948.5,187.5L944.8,190.1L943.3,190.8L945.1,186.4L946.2,184.1L942.8,183.0L938.5,187.1L934.2,189.3L933.4,191.9L936.5,194.4L937.7,196.6L941.4,194.4L947.0,195.8L946.5,197.6L941.9,200.1L937.9,203.6L940.5,206.7L942.2,211.2L945.1,214.9L945.3,217.9L942.8,219.9L945.6,221.2L945.1,224.4L944.2,227.0L941.4,230.2L939.1,234.1L937.1,236.6L934.2,239.1L931.4,241.9L928.6,243.8L924.3,245.0L922.9,245.6L920.0,246.5L916.3,247.8L912.9,248.7L912.3,251.7L910.9,251.1L910.6,248.1L907.2,247.4L904.4,248.7L902.1,251.1L899.5,254.7L901.0,257.7L903.5,261.6L906.7,264.6L908.6,267.5L909.5,271.9L909.2,276.3L905.8,279.5L903.0,281.0L902.1,283.6L896.7,286.1L897.3,282.7L895.8,281.2L893.0,280.4L891.6,278.3L890.2,276.3L887.3,274.3L885.6,273.4L884.5,271.9L883.0,272.5L883.0,276.3L881.6,279.2L880.8,282.1L881.1,284.4L883.0,286.4L883.9,289.3L884.8,290.7L887.3,291.3L889.3,293.0L891.6,295.0L892.7,297.9L892.7,300.7L893.0,303.6L895.0,306.7L893.6,307.0L892.7,306.4L889.3,304.4L886.7,302.4L885.0,299.6L884.2,296.5L883.9,293.6L882.2,292.2L880.2,288.7L878.2,287.9L878.2,286.4L878.8,283.6L878.8,280.7L879.3,277.2L878.8,273.4L877.4,270.5L876.8,267.5L876.2,263.7L874.5,262.2L871.7,262.8L869.7,265.2L866.8,264.6L867.4,260.1L866.8,256.8L865.1,254.1L863.1,252.0L861.1,250.2L860.3,248.1L859.7,245.6L857.4,244.7L856.0,246.5L853.2,247.1L850.3,247.4L848.3,247.4L846.1,248.7L845.5,250.8L844.1,252.9L840.9,254.1L838.1,257.1L835.5,259.8L832.7,262.5L829.9,264.6L827.0,265.8L826.2,269.0L827.0,272.8L826.7,275.7L825.6,279.2L825.6,281.2L823.9,282.7L823.3,284.4L821.0,285.3L819.0,287.6L816.2,285.0L814.8,280.7L813.4,276.9L811.4,273.4L810.2,269.0L808.2,265.2L807.1,261.6L806.2,257.1L805.7,255.6L805.4,251.7L805.7,249.0L804.8,246.8L804.0,249.0L800.6,250.2L797.7,249.6L794.9,245.9L798.6,243.8L795.7,244.1L793.4,242.2L792.6,241.0L790.6,240.3L788.6,237.5L787.8,236.0L782.1,236.3L776.4,236.6L772.1,236.6L766.4,236.0L762.2,235.0L760.7,231.5L758.7,230.6L754.5,232.2L750.8,231.5L747.9,229.3L744.5,227.7L743.1,224.4L740.8,220.8L738.0,219.9L736.6,221.2L735.1,222.8L736.6,226.1L738.8,229.3L740.8,231.8L741.4,234.7L743.1,235.6L744.2,233.8L745.4,236.3L744.8,238.5L745.9,240.3L749.4,239.7L753.6,239.4L756.5,236.0L758.5,233.4L759.0,237.2L759.9,239.7L763.6,241.3L767.8,244.7L768.7,245.6L765.9,251.1L763.0,255.6L761.3,256.2L758.7,258.9L755.0,261.6L750.8,262.5L747.1,265.8L743.7,266.9L739.4,268.4L735.1,270.5L730.9,272.2L726.6,274.0L722.9,274.3L721.8,272.5L720.3,268.1L720.3,263.7L718.1,260.1L715.8,256.2L712.4,251.7L710.1,248.1L709.5,244.4L707.5,241.0L704.7,237.2L703.0,234.1L700.1,229.9L698.2,227.4L698.2,222.8L697.3,226.1L696.2,228.3L694.5,226.7L693.0,225.1L691.3,221.2L690.5,217.2L693.9,217.5L696.2,216.5L697.6,213.9L698.2,211.2L699.6,208.1L700.4,204.3L701.0,201.2L701.6,198.3L699.6,198.7L697.0,198.0L694.5,200.1L691.0,200.5L686.8,198.0L685.4,199.4L682.8,200.1L679.7,198.0L676.3,197.6L676.3,195.5L674.0,192.6L674.8,190.1L673.1,188.2L673.4,186.4L676.8,184.9L681.1,184.5L681.1,182.6L683.9,181.9L688.2,181.5L692.5,178.8L698.2,178.8L702.4,181.5L706.7,182.6L712.4,182.6L716.6,180.7L717.2,177.7L713.8,174.2L711.0,172.2L707.5,169.5L704.7,167.9L703.0,166.3L705.3,165.0L706.7,160.9L710.1,158.0L706.7,158.0L703.3,160.1L699.0,161.8L698.2,165.0L699.6,165.8L702.1,165.8L699.0,167.1L695.9,169.5L693.9,168.7L691.0,165.4L694.2,163.0L690.5,162.2L686.2,160.9L683.4,165.0L682.8,167.9L680.2,170.3L680.0,173.4L678.0,175.0L677.4,177.7L678.2,179.2L681.1,181.9L678.2,182.6L676.3,183.8L673.4,185.6L672.6,184.1L672.6,183.0L669.7,183.0L666.9,183.8L667.7,185.6L665.4,186.4L664.0,184.5L663.5,184.5L663.2,187.1L664.6,189.3L664.0,190.8L666.9,193.7L666.9,194.8L664.6,194.0L664.9,195.8L663.7,198.7L662.3,199.0L660.6,198.0L658.9,194.4L659.8,192.6L658.3,190.8L656.9,189.0L655.5,187.1L653.8,184.5L654.1,180.7L652.6,178.1L650.7,176.5L647.0,174.2L644.1,172.6L641.8,169.9L639.8,166.3L637.9,167.5L637.3,164.6L637.0,164.2L633.9,165.4L633.9,168.7L634.4,171.0L637.3,172.6L639.0,176.9L641.8,179.2L644.7,179.2L644.1,181.1L647.5,182.6L650.7,185.2L651.2,186.4L649.8,186.7L647.5,184.9L646.1,187.5L647.2,190.1L645.5,191.9L644.1,193.7L643.3,193.7L644.1,191.1L644.1,188.2L642.7,186.0L640.7,184.1L639.0,183.4L637.0,181.5L634.2,180.4L633.3,179.6L630.5,177.3L628.5,175.0L627.6,171.4L624.2,169.5L621.4,171.4L619.4,172.2L617.1,174.6L613.7,173.8L610.0,173.0L607.7,174.2L607.4,176.9L607.7,177.7L604.9,181.1L600.9,183.4L598.6,187.1L597.7,188.6L599.2,191.1L597.2,193.0L596.3,195.1L593.8,196.2L592.3,198.3L588.6,198.3L586.1,198.3L583.5,200.5L581.5,200.1L580.7,199.0L580.1,197.3L578.7,196.6L576.1,197.3ZM581.8,201.5L583.5,201.2L587.2,203.6L590.1,203.3L592.9,204.0L596.9,201.5L601.4,199.4L607.1,198.0L612.8,198.0L618.5,197.3L626.5,196.2L629.9,197.3L628.5,199.4L629.0,202.6L629.9,206.0L627.0,207.8L629.3,209.1L631.3,210.5L636.1,211.5L641.3,213.5L645.5,217.2L649.8,219.5L653.2,220.2L655.5,217.9L655.5,213.9L659.8,211.5L664.0,212.5L666.9,214.5L669.7,215.9L675.4,216.9L681.1,218.2L683.9,217.2L686.8,216.2L690.5,217.2L691.3,221.2L691.6,224.4L693.9,228.3L695.3,232.5L697.9,237.2L699.6,240.3L700.1,243.4L703.3,246.5L704.4,249.6L704.4,253.8L708.1,258.6L710.1,263.1L711.0,265.8L713.8,268.1L716.6,271.1L719.5,273.4L721.5,274.9L721.5,277.8L723.8,280.7L726.6,280.7L732.3,278.6L738.0,278.3L744.2,276.9L743.7,280.7L743.1,283.6L740.3,287.9L738.0,292.2L735.1,296.5L732.3,300.7L727.5,305.0L723.8,307.9L719.5,312.1L716.6,315.8L713.8,318.1L712.4,320.7L711.5,322.4L709.5,326.4L709.0,329.2L710.4,330.4L711.0,335.0L711.5,339.3L713.5,340.7L713.8,345.1L714.1,350.9L714.4,354.5L711.8,358.0L706.7,361.0L703.6,362.8L698.2,368.5L697.6,371.8L699.3,375.5L699.6,380.4L698.2,383.2L692.5,385.4L691.9,387.3L692.2,392.1L691.0,395.3L686.8,399.9L683.9,404.5L679.7,409.2L678.0,410.2L671.7,413.6L665.4,414.0L661.2,414.3L655.5,416.4L650.9,414.7L650.7,410.2L650.4,406.9L648.4,401.9L646.4,397.0L645.5,395.7L642.1,390.5L641.3,385.8L639.8,381.1L639.8,377.6L637.9,371.8L635.0,365.8L632.2,361.3L632.2,356.8L633.6,352.4L636.4,347.4L637.9,342.2L636.1,335.8L635.0,330.7L633.6,327.8L632.7,324.9L630.5,322.1L627.0,318.7L625.1,315.8L623.6,312.7L625.3,309.8L626.2,306.4L626.5,303.0L626.5,301.3L625.6,299.6L623.6,297.9L621.4,297.9L618.5,298.2L615.7,298.5L613.7,295.6L611.4,293.0L608.3,292.5L604.3,292.7L601.4,293.6L598.6,294.7L595.8,295.9L592.9,297.0L590.1,296.2L587.2,295.6L581.5,296.7L577.3,298.2L576.7,298.2L573.0,295.9L567.9,292.7L564.5,289.9L561.1,286.4L560.2,283.6L559.6,283.6L556.8,280.4L555.1,278.6L553.1,276.9L551.1,275.2L550.8,272.2L548.8,268.4L551.7,264.6L552.2,260.1L553.1,258.3L552.2,254.1L550.2,249.9L551.7,246.5L553.1,241.3L555.9,238.2L557.4,233.4L560.2,230.2L561.6,228.0L565.9,226.4L569.6,223.5L571.0,220.2L570.7,217.9L572.1,213.5L577.0,209.1L579.3,207.4L581.0,204.3ZM-20.1,341.3L-17.2,346.5L-16.7,351.8L-12.1,353.9L-11.5,358.3L-10.1,361.3L-9.3,365.2L-5.8,367.3L-2.1,370.0L-0.2,374.0L2.7,376.4L4.1,380.4L8.4,383.6L10.4,386.7L10.7,392.1L11.5,396.0L9.8,401.9L8.4,406.9L5.0,413.3L2.7,418.8L1.3,423.4L1.3,425.9L-4.4,427.4L-9.0,431.7L-13.0,428.4L-17.2,430.6L-22.9,428.8L-26.0,427.4L-28.0,423.8L-28.6,419.9L-31.4,417.8L-32.6,414.3L-33.7,410.2L-33.4,408.9L-35.7,412.6L-38.6,416.4L-40.0,416.1L-40.8,412.6L-43.7,410.2L-45.7,407.5L-49.9,406.9L-52.8,405.2L-58.5,405.5L-64.2,407.5L-68.4,408.9L-72.7,410.2L-74.1,413.3L-78.4,413.3L-84.1,413.3L-88.3,416.1L-90.0,417.4L-95.4,417.1L-98.0,414.7L-98.0,412.3L-96.3,408.5L-96.3,406.5L-98.3,401.2L-98.9,397.0L-100.6,393.1L-102.6,388.0L-102.8,382.6L-102.0,376.7L-100.8,374.3L-97.7,371.8L-93.5,370.6L-88.3,369.7L-84.1,368.5L-80.4,366.4L-77.5,362.5L-77.8,359.8L-75.0,358.3L-73.5,360.7L-71.3,357.4L-69.8,354.7L-67.0,350.9L-64.2,350.6L-60.7,353.3L-57.0,353.6L-56.5,350.0L-54.2,346.8L-53.3,346.2L-51.4,345.7L-48.2,343.3L-45.7,344.5L-41.4,345.7L-36.6,345.1L-36.0,348.0L-38.6,349.5L-40.0,353.3L-37.1,356.2L-33.7,357.7L-30.0,359.8L-27.2,361.9L-24.3,359.8L-22.9,353.9L-22.3,349.5L-22.3,346.5L-21.5,342.8ZM1003.9,341.3L1006.8,346.5L1007.3,351.8L1011.9,353.9L1012.5,358.3L1013.9,361.3L1014.7,365.2L1018.2,367.3L1021.9,370.0L1023.8,374.0L1026.7,376.4L1028.1,380.4L1032.4,383.6L1034.4,386.7L1034.7,392.1L1035.5,396.0L1033.8,401.9L1032.4,406.9L1029.0,413.3L1026.7,418.8L1025.3,423.4L1025.3,425.9L1019.6,427.4L1015.0,431.7L1011.0,428.4L1006.8,430.6L1001.1,428.8L998.0,427.4L996.0,423.8L995.4,419.9L992.6,417.8L991.4,414.3L990.3,410.2L990.6,408.9L988.3,412.6L985.4,416.4L984.0,416.1L983.2,412.6L980.3,410.2L978.3,407.5L974.1,406.9L971.2,405.2L965.5,405.5L959.8,407.5L955.6,408.9L951.3,410.2L949.9,413.3L945.6,413.3L939.9,413.3L935.7,416.1L934.0,417.4L928.6,417.1L926.0,414.7L926.0,412.3L927.7,408.5L927.7,406.5L925.7,401.2L925.1,397.0L923.4,393.1L921.4,388.0L921.2,382.6L922.0,376.7L923.2,374.3L926.3,371.8L930.5,370.6L935.7,369.7L939.9,368.5L943.6,366.4L946.5,362.5L946.2,359.8L949.0,358.3L950.5,360.7L952.7,357.4L954.2,354.7L957.0,350.9L959.8,350.6L963.3,353.3L967.0,353.6L967.5,350.0L969.8,346.8L970.7,346.2L972.6,345.7L975.8,343.3L978.3,344.5L982.6,345.7L987.4,345.1L988.0,348.0L985.4,349.5L984.0,353.3L986.9,356.2L990.3,357.7L994.0,359.8L996.8,361.9L999.7,359.8L1001.1,353.9L1001.7,349.5L1001.7,346.5L1002.5,342.8ZM-13.8,437.6L-8.7,439.2L-3.9,438.0L-3.6,442.6L-4.4,447.2L-7.3,448.8L-10.1,448.4L-12.1,444.5L-13.8,440.7ZM1010.2,437.6L1015.3,439.2L1020.1,438.0L1020.4,442.6L1019.6,447.2L1016.7,448.8L1013.9,448.4L1011.9,444.5L1010.2,440.7ZM65.8,415.0L68.1,417.1L71.0,420.6L71.8,423.4L74.1,423.1L74.9,426.3L78.1,427.4L81.8,426.3L82.3,429.5L80.6,432.1L78.1,433.2L77.8,436.2L75.2,439.9L72.9,441.0L71.5,439.9L72.7,436.9L71.8,434.7L69.0,432.8L71.2,430.6L71.5,427.7L71.0,424.1L69.5,421.6L66.7,417.8ZM1089.8,415.0L1092.1,417.1L1095.0,420.6L1095.8,423.4L1098.1,423.1L1098.9,426.3L1102.1,427.4L1105.8,426.3L1106.3,429.5L1104.6,432.1L1102.1,433.2L1101.8,436.2L1099.2,439.9L1096.9,441.0L1095.5,439.9L1096.7,436.9L1095.8,434.7L1093.0,432.8L1095.2,430.6L1095.5,427.7L1095.0,424.1L1093.5,421.6L1090.7,417.8ZM65.8,436.9L70.4,439.5L69.5,442.2L67.5,446.0L66.1,448.8L66.7,450.0L62.4,451.5L61.0,455.6L60.1,458.0L57.3,460.5L53.6,460.9L51.0,459.2L48.2,457.6L50.5,453.5L53.9,450.4L58.2,447.2L61.6,443.7L63.3,440.7L64.4,438.0ZM1089.8,436.9L1094.4,439.5L1093.5,442.2L1091.5,446.0L1090.1,448.8L1090.7,450.0L1086.4,451.5L1085.0,455.6L1084.1,458.0L1081.3,460.5L1077.6,460.9L1075.0,459.2L1072.2,457.6L1074.5,453.5L1077.9,450.4L1082.2,447.2L1085.6,443.7L1087.3,440.7L1088.4,438.0ZM582.4,145.5L585.8,141.5L590.1,140.6L590.9,138.8L587.8,138.8L583.8,138.3L586.4,136.0L586.9,132.7L585.2,133.2L585.8,130.4L590.1,130.4L590.1,127.5L588.4,125.1L589.5,123.1L585.8,123.6L584.4,124.1L584.9,120.1L582.7,121.1L583.0,116.5L581.0,114.0L582.4,109.8L583.8,105.5L584.4,103.9L589.2,103.9L589.8,105.5L587.2,108.7L592.9,108.7L593.5,110.3L591.5,115.5L589.5,117.6L592.9,118.6L594.3,122.6L595.5,125.1L598.0,127.5L599.2,129.9L599.5,132.7L602.9,132.7L603.4,134.6L601.4,137.9L600.9,139.2L602.6,140.2L601.4,141.5L598.6,142.4L594.3,142.9L591.5,143.3L588.6,143.8L588.4,145.1L584.4,146.0ZM577.8,121.1L581.0,121.6L583.0,124.6L581.5,127.5L581.2,130.8L581.5,134.6L580.4,136.0L577.3,136.9L574.4,138.3L570.7,139.2L569.3,136.5L571.6,134.2L570.7,130.8L570.2,126.5L574.4,125.5L574.4,122.6ZM529.8,61.8L534.6,55.5L537.4,61.8L541.7,58.3L547.4,56.9L552.2,54.8L556.8,56.2L559.9,63.2L558.8,67.2L554.5,70.5L547.4,75.0L541.7,74.4L534.6,73.1L536.0,69.2L530.3,65.9L534.6,64.5ZM999.4,180.7L1001.1,184.5L1002.5,188.2L1001.1,192.6L999.7,195.5L999.1,199.0L999.1,201.9L996.8,204.3L996.0,202.9L994.0,204.3L993.1,205.3L989.1,205.7L987.7,206.4L986.3,209.5L984.9,209.5L982.6,207.1L983.5,205.3L979.8,205.7L975.5,207.1L971.2,207.8L970.9,206.7L973.5,205.3L976.1,202.9L979.8,202.2L984.0,202.2L985.4,200.1L987.7,196.2L989.1,198.0L992.6,195.8L995.4,191.9L996.8,188.2L996.8,184.5L997.7,181.9ZM997.7,180.7L996.8,176.9L998.2,173.8L1001.1,173.4L1001.9,169.1L1002.5,165.0L1006.2,169.1L1009.1,171.0L1011.9,169.9L1013.3,173.4L1011.0,175.0L1006.8,178.8L1005.9,178.8L1002.5,176.9L999.7,176.9L1000.2,179.6ZM971.2,208.1L973.2,209.5L974.1,211.8L972.6,216.2L970.4,217.9L968.9,216.9L968.9,213.5L967.5,211.8L967.8,209.5L969.8,208.4ZM975.5,208.4L980.3,206.7L981.7,208.4L980.3,210.1L976.9,211.8L975.5,210.5ZM1002.5,126.0L1005.4,129.9L1006.2,136.9L1006.8,143.8L1009.6,150.4L1005.4,149.1L1004.8,156.8L1006.8,160.1L1006.2,163.0L1002.5,163.0L1002.5,156.8L1002.5,150.4L1002.5,143.8L1001.9,136.9L1001.9,130.8ZM1012.5,171.8L1014.7,169.5L1013.9,169.1ZM-7.6,169.1L-2.1,165.0L-3.0,164.6L-7.3,167.5ZM1016.4,169.1L1021.9,165.0L1021.0,164.6L1016.7,167.5ZM-0.2,164.2L2.7,162.2L2.1,161.8L0.1,163.0ZM1023.8,164.2L1026.7,162.2L1026.1,161.8L1024.1,163.0ZM7.0,158.9L8.4,157.6L7.5,157.2ZM1031.0,158.9L1032.4,157.6L1031.5,157.2ZM12.4,151.7L13.2,150.4L12.6,149.9ZM1036.4,151.7L1037.2,150.4L1036.6,149.9ZM16.9,146.0L18.9,142.9L18.0,142.4L16.3,144.7ZM1040.9,146.0L1042.9,142.9L1042.0,142.4L1040.3,144.7ZM944.2,236.3L945.6,237.8L944.2,241.9L942.2,246.5L940.5,244.1L940.5,241.0L942.8,237.2ZM907.8,254.7L910.1,252.6L913.8,252.6L914.3,254.1L912.3,257.1L910.1,258.0L907.8,256.8ZM941.4,257.1L945.6,257.1L946.5,261.6L944.2,264.6L944.8,269.0L947.0,269.9L950.7,271.1L951.3,274.3L948.5,272.5L945.6,271.1L942.8,271.4L941.6,269.0L939.9,267.5L939.4,264.0L940.8,261.6ZM955.6,282.7L957.9,286.4L958.4,290.7L955.6,293.6L955.0,291.3L951.3,292.2L951.3,289.3L946.2,290.7L947.9,287.9L949.9,286.1L953.3,286.1ZM952.2,274.9L955.6,275.4L956.1,279.2L954.2,281.5L952.7,279.8L952.4,277.8ZM945.6,276.9L948.5,277.8L949.3,280.7L949.0,284.4L947.0,283.6L946.5,280.7L945.3,279.8ZM949.6,281.2L951.3,278.6L951.6,280.7L952.7,282.1L950.7,283.3ZM932.3,286.7L935.1,284.1L938.5,280.7L937.9,278.3L937.1,281.0L933.4,285.0ZM941.1,272.2L943.9,272.5L943.9,275.4L942.5,275.4ZM908.6,306.4L910.6,305.0L914.3,306.1L915.5,303.3L920.0,301.3L922.9,297.9L926.6,296.5L928.6,293.6L930.8,290.7L932.8,292.2L934.8,294.2L937.7,295.9L935.1,297.9L933.7,300.7L934.2,304.2L937.1,307.9L933.7,308.4L932.8,312.1L930.0,315.0L929.4,319.2L928.6,322.1L924.6,322.4L922.9,320.4L920.0,320.1L916.3,319.2L912.1,319.0L911.5,315.0L909.2,312.7L908.6,309.8ZM869.7,294.7L874.5,295.9L877.4,298.7L881.6,302.2L884.5,304.4L887.3,305.6L891.6,309.0L893.9,311.6L895.8,315.0L897.3,317.2L900.1,319.2L900.1,323.5L899.5,327.2L897.3,327.2L895.8,326.7L891.6,323.5L888.7,320.7L885.9,317.2L883.9,313.5L880.2,309.8L879.3,306.4L875.9,303.6L873.1,300.2L869.7,296.5ZM897.8,315.5L900.7,315.3L902.1,318.7L900.1,319.0ZM897.8,330.1L900.7,327.5L905.8,328.7L907.8,330.1L912.9,330.4L914.3,328.9L919.2,330.4L922.9,332.7L924.3,335.5L920.0,334.4L914.3,334.4L908.6,332.7L904.4,332.7L901.5,331.8ZM939.4,309.3L942.2,307.0L948.5,308.1L954.2,305.9L952.7,309.6L948.5,309.8L942.8,309.6L939.9,313.0L944.2,313.3L949.3,312.7L949.3,314.1L945.6,315.8L944.2,316.4L947.0,319.8L948.5,322.1L948.5,326.4L945.6,324.4L944.2,322.1L942.8,318.4L940.8,319.2L941.1,324.4L940.8,326.4L938.5,326.4L938.5,322.1L936.5,318.7L937.9,314.4L939.4,310.7ZM-52.8,313.0L-48.5,311.8L-44.2,313.0L-43.7,316.4L-41.4,320.1L-38.6,317.2L-34.3,315.3L-30.0,316.4L-24.3,318.1L-18.6,320.4L-14.4,321.5L-10.7,324.9L-7.3,327.8L-5.0,329.2L-7.3,330.1L-4.4,333.5L-1.6,336.4L2.7,340.2L1.3,341.3L-4.4,339.9L-7.3,337.8L-10.1,334.1L-14.4,332.7L-17.2,335.0L-18.6,337.0L-22.9,337.0L-28.6,333.8L-32.9,334.4L-30.6,331.2L-32.9,326.4L-38.6,323.8L-44.2,321.8L-47.1,322.1L-47.9,320.1L-49.9,318.7L-45.7,317.8L-49.1,317.0L-52.8,314.7ZM971.2,313.0L975.5,311.8L979.8,313.0L980.3,316.4L982.6,320.1L985.4,317.2L989.7,315.3L994.0,316.4L999.7,318.1L1005.4,320.4L1009.6,321.5L1013.3,324.9L1016.7,327.8L1019.0,329.2L1016.7,330.1L1019.6,333.5L1022.4,336.4L1026.7,340.2L1025.3,341.3L1019.6,339.9L1016.7,337.8L1013.9,334.1L1009.6,332.7L1006.8,335.0L1005.4,337.0L1001.1,337.0L995.4,333.8L991.1,334.4L993.4,331.2L991.1,326.4L985.4,323.8L979.8,321.8L976.9,322.1L976.1,320.1L974.1,318.7L978.3,317.8L974.9,317.0L971.2,314.7ZM924.3,334.1L927.7,334.1L926.6,335.8L924.6,335.0ZM928.6,334.4L930.5,334.7L930.0,336.1L928.6,335.8ZM930.8,335.0L934.2,334.1L937.1,334.7L937.1,335.8L932.8,336.4L930.8,336.4ZM939.6,334.7L942.8,334.7L947.9,334.1L947.9,335.5L942.8,336.1L939.6,335.8ZM937.1,337.8L940.5,337.8L942.2,339.9L938.5,339.0ZM949.9,340.2L952.7,337.3L955.6,335.5L959.8,334.7L958.4,336.4L954.2,338.4L951.3,340.2ZM961.3,307.9L962.7,305.0L964.7,306.4L963.3,308.4L965.0,309.8L962.7,312.1L962.1,309.8ZM962.7,319.2L970.7,319.2L969.8,320.9L964.1,320.7ZM957.0,319.8L960.4,320.1L959.3,321.5L957.0,320.9ZM-3.6,326.7L1.3,326.4L5.5,324.9L7.8,322.7L7.8,324.9L4.1,327.8L-0.2,328.7ZM1020.4,326.7L1025.3,326.4L1029.5,324.9L1031.8,322.7L1031.8,324.9L1028.1,327.8L1023.8,328.7ZM3.5,318.1L7.0,319.8L9.8,322.9L9.2,324.1L6.4,320.4ZM1027.5,318.1L1031.0,319.8L1033.8,322.9L1033.2,324.1L1030.4,320.4ZM14.4,326.1L17.8,329.2L16.3,330.4L14.4,327.8ZM1038.4,326.1L1041.8,329.2L1040.3,330.4L1038.4,327.8ZM19.8,329.8L22.6,331.5L21.7,332.1ZM1043.8,329.8L1046.6,331.5L1045.7,332.1ZM25.4,332.4L29.1,334.7L28.0,335.0ZM1049.4,332.4L1053.1,334.7L1052.0,335.0ZM28.6,337.3L32.0,338.7L29.1,338.7ZM1052.6,337.3L1056.0,338.7L1053.1,338.7ZM31.7,334.7L33.4,337.6L32.6,337.8ZM1055.7,334.7L1057.4,337.6L1056.6,337.8ZM33.4,340.2L36.3,341.3L34.8,341.6ZM1057.4,340.2L1060.3,341.3L1058.8,341.6ZM41.1,369.4L46.8,373.3L49.6,375.8L48.2,376.1L43.9,373.3L41.1,370.3ZM1065.1,369.4L1070.8,373.3L1073.6,375.8L1072.2,376.1L1067.9,373.3L1065.1,370.3ZM48.5,353.0L50.2,355.3L49.1,355.9ZM1072.5,353.0L1074.2,355.3L1073.1,355.9ZM50.2,356.8L51.9,358.3L50.8,358.6ZM1074.2,356.8L1075.9,358.3L1074.8,358.6ZM53.0,361.3L54.2,362.2L53.0,362.5ZM1077.0,361.3L1078.2,362.2L1077.0,362.5ZM78.9,361.3L82.6,361.6L82.3,363.4L78.9,363.1ZM1102.9,361.3L1106.6,361.6L1106.3,363.4L1102.9,363.1ZM82.9,358.9L86.6,357.4L86.0,359.2ZM1106.9,358.9L1110.6,357.4L1110.0,359.2ZM825.6,283.0L827.0,282.7L829.6,286.4L831.3,289.9L830.7,292.2L827.9,293.9L826.2,292.7L825.6,289.3L825.9,286.4ZM738.8,345.1L741.7,353.9L740.8,356.2L739.4,361.3L738.0,367.3L736.0,373.3L734.3,379.5L732.3,384.2L728.0,385.8L724.6,384.2L722.3,379.5L721.8,374.9L724.6,369.7L724.6,365.8L723.8,361.3L725.2,357.4L729.4,355.9L732.3,353.9L735.1,350.3L737.4,346.5ZM755.9,371.5L757.3,371.8L756.8,373.0ZM761.9,368.8L763.0,369.4L762.2,370.3ZM721.5,343.3L722.3,344.5L721.5,344.8ZM750.2,274.6L753.6,274.6L752.2,275.4ZM357.1,246.8L359.7,244.4L363.9,243.1L368.2,243.1L372.5,244.4L376.7,245.6L379.6,247.8L383.3,249.6L387.5,252.0L385.3,252.9L378.2,252.9L379.0,250.8L375.9,250.2L374.7,248.1L370.2,247.1L365.9,245.9L364.8,244.7L361.7,245.9L359.7,246.8ZM387.0,257.1L391.0,256.8L392.4,256.8L391.5,254.7L389.8,253.2L394.7,253.2L399.5,253.5L401.8,255.0L404.0,256.8L402.3,257.7L398.9,257.7L395.2,259.5L393.2,258.0L389.5,258.0ZM375.9,257.4L379.6,257.1L381.9,258.6L379.6,259.2L376.2,258.3ZM407.5,257.1L411.7,257.4L411.4,258.6L407.5,258.6ZM422.5,280.1L425.1,279.8L425.1,281.8L422.5,281.8ZM375.9,237.5L377.3,236.9L377.6,239.7L376.2,239.4ZM377.3,231.5L379.6,232.5L379.0,233.4ZM389.2,249.0L391.0,248.7L390.4,249.9ZM429.9,156.4L432.2,152.5L433.6,148.2L435.6,143.3L437.9,139.7L440.7,138.8L439.3,143.8L437.9,146.9L440.7,146.4L445.0,148.2L446.4,152.5L447.8,154.7L448.7,156.8L447.3,160.1L445.0,159.7L444.4,156.8L440.7,159.3L439.9,156.4L435.0,156.4ZM415.7,159.7L422.2,161.4L420.8,163.0L416.6,161.4ZM415.1,146.4L423.1,149.9L418.0,149.1ZM233.7,142.4L240.2,144.2L243.6,147.7L247.3,152.1L247.0,153.4L243.0,151.7L238.8,148.2L235.1,145.5ZM1257.7,142.4L1264.2,144.2L1267.6,147.7L1271.3,152.1L1271.0,153.4L1267.0,151.7L1262.8,148.2L1259.1,145.5ZM220.3,127.0L223.7,127.5L225.1,136.0L222.3,132.3ZM1244.3,127.0L1247.7,127.5L1249.1,136.0L1246.3,132.3ZM159.1,109.8L163.4,107.1L165.7,109.8L162.0,112.4L158.8,112.4ZM1183.1,109.8L1187.4,107.1L1189.7,109.8L1186.0,112.4L1182.8,112.4ZM211.8,108.2L215.2,107.7L217.4,116.0L220.3,122.6L222.6,123.6L219.4,119.6L216.0,116.5L213.2,112.4ZM1235.8,108.2L1239.2,107.7L1241.4,116.0L1244.3,122.6L1246.6,123.6L1243.4,119.6L1240.0,116.5L1237.2,112.4ZM129.3,125.1L133.5,123.1L133.5,124.6L129.8,125.5ZM1153.3,125.1L1157.5,123.1L1157.5,124.6L1153.8,125.5ZM122.2,130.8L125.6,127.5L125.0,129.9ZM1146.2,130.8L1149.6,127.5L1149.0,129.9ZM117.9,133.2L120.7,129.9L120.2,131.8ZM1141.9,133.2L1144.7,129.9L1144.2,131.8ZM101.4,136.5L103.7,135.6L103.1,136.9ZM1125.4,136.5L1127.7,135.6L1127.1,136.9ZM95.1,138.3L96.8,137.4L96.6,138.8ZM1119.1,138.3L1120.8,137.4L1120.6,138.8ZM91.7,137.9L93.1,137.4L92.6,138.8ZM1115.7,137.9L1117.1,137.4L1116.6,138.8ZM65.3,132.7L67.8,132.3L66.7,133.7ZM1089.3,132.7L1091.8,132.3L1090.7,133.7ZM110.2,75.0L115.0,73.7L118.5,76.3L113.6,78.2ZM1134.2,75.0L1139.0,73.7L1142.5,76.3L1137.6,78.2ZM122.7,94.9L127.0,94.4L126.4,97.2L123.0,96.6ZM1146.7,94.9L1151.0,94.4L1150.4,97.2L1147.0,96.6ZM82.3,17.6L92.3,14.9L93.7,19.3L85.2,20.2ZM1106.3,17.6L1116.3,14.9L1117.7,19.3L1109.2,20.2ZM414.6,86.7L410.9,84.3L403.8,81.3L396.6,78.2L392.4,73.1L388.1,69.2L378.2,69.8L376.7,65.2L385.3,62.5L388.1,58.3L391.0,49.0L391.0,41.5L383.8,36.8L379.6,30.3L373.9,27.9L369.6,30.3L365.4,28.7L358.2,28.7L355.4,23.7L348.3,23.7L344.0,19.3L342.6,10.4L344.0,0.9L348.3,-7.0L356.8,-7.0L358.2,0.9L355.4,10.4L359.7,8.5L363.9,-6.0L371.0,-6.0L379.6,0.9L382.4,4.8L386.7,10.4L393.8,14.9L398.1,21.9L403.8,25.4L406.6,33.6L409.4,41.5L416.6,46.8L422.2,51.2L423.7,54.8L420.8,60.4L416.6,65.2L409.4,54.8L405.2,58.3L412.3,68.5L416.6,75.0L413.7,79.4L405.2,74.4L410.9,82.5ZM351.1,65.2L356.8,58.3L361.1,63.2L366.8,69.8L369.6,73.7L365.4,75.0L361.1,71.8L355.4,76.3L351.1,73.1L354.0,68.5ZM362.5,78.8L366.8,78.8L365.4,82.5L362.5,81.9ZM370.2,82.5L372.5,83.1L371.6,86.1ZM264.4,27.9L271.5,33.6L277.2,39.9L288.6,38.4L299.9,36.0L308.5,36.0L309.9,27.9L302.8,21.9L299.9,10.4L297.1,-1.0L285.7,0.9L277.2,2.9L271.5,-4.0L263.0,2.9L260.1,13.1L265.8,16.7L271.5,15.8L277.2,21.9L265.8,22.8ZM1288.4,27.9L1295.5,33.6L1301.2,39.9L1312.6,38.4L1323.9,36.0L1332.5,36.0L1333.9,27.9L1326.8,21.9L1323.9,10.4L1321.1,-1.0L1309.7,0.9L1301.2,2.9L1295.5,-4.0L1287.0,2.9L1284.1,13.1L1289.8,16.7L1295.5,15.8L1301.2,21.9L1289.8,22.8ZM243.0,10.4L248.7,17.6L254.4,14.9L258.7,7.6L264.4,-4.0L268.6,-12.2L254.4,-14.3L244.5,-12.2L241.6,0.9ZM1267.0,10.4L1272.7,17.6L1278.4,14.9L1282.7,7.6L1288.4,-4.0L1292.6,-12.2L1278.4,-14.3L1268.5,-12.2L1265.6,0.9ZM315.6,36.0L321.3,30.3L327.0,32.0L325.5,38.4L319.8,39.9ZM1339.6,36.0L1345.3,30.3L1351.0,32.0L1349.5,38.4L1343.8,39.9ZM308.5,10.4L314.2,16.7L322.7,13.1L322.7,0.9L317.0,-8.1L309.9,-4.0ZM1332.5,10.4L1338.2,16.7L1346.7,13.1L1346.7,0.9L1341.0,-8.1L1333.9,-4.0ZM327.0,10.4L332.6,10.4L341.2,2.9L341.2,-9.1L328.4,-9.1ZM1351.0,10.4L1356.6,10.4L1365.2,2.9L1365.2,-9.1L1352.4,-9.1ZM366.8,131.3L371.0,132.3L369.6,133.7L367.3,133.2ZM371.0,114.0L373.9,115.0L373.0,118.1L371.0,117.6ZM745.1,14.0L749.4,21.9L755.0,22.8L762.2,22.8L760.7,14.9L757.9,5.7L757.9,-9.1L750.8,-4.0L746.5,7.6ZM736.0,33.6L739.4,32.0L741.7,36.0L738.0,38.4ZM765.0,25.4L769.3,26.2L769.8,30.3L766.4,30.3ZM634.2,193.7L637.0,193.0L643.0,192.6L641.8,197.3L641.3,198.3L638.4,197.3L634.2,195.1ZM621.9,183.0L624.8,181.9L626.5,184.5L625.9,189.3L624.2,190.1L622.5,190.1L622.5,186.4ZM623.1,177.3L625.3,175.0L625.6,178.8L624.8,181.1L623.1,179.2ZM665.4,202.6L668.3,202.6L673.4,203.3L673.1,204.3L668.9,204.7L665.4,203.6ZM690.5,204.3L692.5,203.3L696.7,201.9L695.3,204.3L692.5,205.7L690.8,205.3ZM605.4,187.8L607.7,186.7L608.3,187.8L607.1,189.0ZM677.7,199.8L678.8,199.4L678.2,201.2ZM664.9,190.4L667.4,191.5L668.3,193.7L665.4,191.5ZM672.6,189.0L674.0,189.0L673.7,190.1ZM630.5,119.1L634.2,117.6L634.2,121.1L632.7,123.6L630.5,121.6ZM626.5,120.1L629.0,120.1L629.3,122.1L627.0,122.1ZM650.4,112.4L652.4,107.7L652.6,110.3L651.2,112.4ZM660.9,104.4L663.7,103.9L664.0,105.5L661.2,107.1ZM661.5,101.7L663.7,101.7L663.2,103.3ZM550.8,226.7L552.5,226.1L552.0,227.7ZM553.9,227.4L554.8,227.7L554.2,228.3ZM558.2,225.7L559.1,226.1L558.2,227.4ZM531.2,266.9L532.0,266.9L531.8,267.8ZM403.5,487.2L404.6,490.6L406.6,493.9L413.1,496.8L409.4,498.8L403.8,500.3L399.5,499.8L395.2,496.8L393.8,494.9L396.9,494.4L398.6,491.5L398.4,488.2L400.9,487.2ZM386.7,486.8L389.5,490.6L392.4,493.9L389.5,493.9L386.1,489.1ZM424.2,483.5L427.9,481.7L434.2,482.2L432.2,484.5L429.4,485.8L425.7,485.4ZM388.1,441.8L389.5,442.6L389.5,447.6L387.0,447.2ZM490.5,493.9L496.2,495.4L494.8,497.8ZM794.9,471.0L799.1,471.9L797.7,474.1L794.9,473.7ZM154.9,252.0L157.7,253.2L156.3,255.6L154.9,254.1ZM1178.9,252.0L1181.7,253.2L1180.3,255.6L1178.9,254.1ZM153.2,249.9L154.9,250.2L153.7,250.8ZM1177.2,249.9L1178.9,250.2L1177.7,250.8ZM148.6,248.1L150.0,248.4L149.2,248.7ZM1172.6,248.1L1174.0,248.4L1173.2,248.7ZM144.3,246.2L145.5,246.2L144.9,246.8ZM1168.3,246.2L1169.5,246.2L1168.9,246.8ZM338.3,311.6L339.8,311.8L339.2,313.5Z"/>
<path fill="#262626" d="M732.3,165.0L738.0,160.9L743.7,159.3L749.4,160.1L749.4,165.8L744.5,167.1L743.7,169.5L741.7,169.1L743.7,174.2L747.9,176.9L747.9,180.7L749.4,183.4L748.5,186.4L750.8,188.2L751.6,191.9L751.9,196.2L749.4,198.0L745.1,198.3L740.8,195.8L738.0,192.6L737.4,189.3L739.4,185.2L741.7,185.2L739.4,183.8L736.6,178.8L733.7,175.0L733.7,171.0L731.4,168.3ZM336.9,160.1L342.6,155.5L346.9,152.5L354.0,151.7L357.7,155.5L357.7,160.9L352.6,160.9L348.3,159.3L342.6,160.5ZM1360.9,160.1L1366.6,155.5L1370.9,152.5L1378.0,151.7L1381.7,155.5L1381.7,160.9L1376.6,160.9L1372.3,159.3L1366.6,160.5ZM348.9,180.0L352.6,179.6L353.4,173.0L355.4,167.1L356.8,163.8L352.6,163.8L349.7,167.1L348.3,169.1L349.7,173.0ZM357.7,163.4L361.1,162.6L365.4,163.0L371.0,165.0L371.0,169.1L366.8,168.3L366.2,173.8L364.2,175.0L362.5,171.8L360.2,172.2L361.7,167.1L359.7,164.6ZM361.4,180.0L365.4,180.7L369.6,178.8L373.9,176.1L372.5,175.4L368.2,176.1L363.9,178.4L362.2,178.8ZM371.9,173.8L376.7,173.8L381.6,173.0L381.0,170.7L376.7,171.4L373.0,172.2ZM247.9,63.8L253.6,60.4L258.7,62.5L262.1,56.2L257.3,52.6L252.1,56.2L246.5,56.9L250.2,60.4ZM1271.9,63.8L1277.6,60.4L1282.7,62.5L1286.1,56.2L1281.3,52.6L1276.1,56.2L1270.5,56.9L1274.2,60.4ZM265.8,90.3L271.5,90.9L275.8,88.5L281.4,84.3L288.6,79.4L284.3,79.4L277.2,82.5L270.1,82.5L265.8,87.3ZM1289.8,90.3L1295.5,90.9L1299.8,88.5L1305.4,84.3L1312.6,79.4L1308.3,79.4L1301.2,82.5L1294.1,82.5L1289.8,87.3ZM281.4,103.3L288.6,100.6L294.2,100.0L288.6,98.3L282.9,100.6ZM1305.4,103.3L1312.6,100.6L1318.2,100.0L1312.6,98.3L1306.9,100.6ZM317.0,143.8L322.7,144.2L324.1,136.9L321.3,128.5L317.0,129.9L319.8,136.9ZM1341.0,143.8L1346.7,144.2L1348.1,136.9L1345.3,128.5L1341.0,129.9L1343.8,136.9ZM306.2,115.0L309.9,115.0L309.0,108.2L306.2,108.2ZM1330.2,115.0L1333.9,115.0L1333.0,108.2L1330.2,108.2ZM688.8,313.5L691.0,310.1L695.3,310.1L695.3,317.8L689.6,318.4ZM681.7,320.4L682.8,323.8L686.5,335.3L685.6,335.3L681.9,327.2ZM695.3,338.1L696.7,342.2L697.9,351.5L697.0,351.5L695.9,343.6ZM893.6,138.8L898.7,138.3L905.8,132.3L910.9,120.1L908.6,119.6L904.4,129.9L897.3,135.6ZM807.7,165.0L813.4,160.5L823.3,160.1L822.7,161.8L813.4,163.0L809.1,167.1ZM685.4,96.1L691.9,93.2L689.6,87.3L683.9,88.5ZM696.7,90.3L701.0,87.3L698.7,81.3L696.2,84.3ZM634.2,103.3L637.9,100.0L637.0,104.4ZM354.5,278.6L355.1,276.3L357.4,277.8L356.8,279.2ZM399.5,354.7L401.5,355.6L402.9,358.0L400.6,357.4Z"/>
<path fill="none" stroke="#272727" stroke-width="0.9" stroke-linejoin="round" d="M197.5,31.2L197.5,94.4L203.2,95.5L207.5,101.7L210.3,98.9L214.6,97.8L217.4,102.8L220.3,108.2L223.1,112.4L227.4,117.6L228.8,122.6M1221.5,31.2L1221.5,94.4L1227.2,95.5L1231.5,101.7L1234.3,98.9L1238.6,97.8L1241.4,102.8L1244.3,108.2L1247.1,112.4L1251.4,117.6L1252.8,122.6M248.2,150.4L327.8,150.4L329.2,149.1L336.9,153.0L342.6,154.2L346.9,153.4L357.4,159.7L361.1,163.0L363.9,165.8L364.8,173.0L363.9,176.9L362.2,178.1L363.9,180.0L373.9,175.7L373.9,173.4L381.0,171.8L385.3,167.1L395.2,167.1L398.1,163.8L401.8,157.2L405.2,157.6L405.7,163.8L408.0,167.1M1272.2,150.4L1351.8,150.4L1353.2,149.1L1360.9,153.0L1366.6,154.2L1370.9,153.4L1381.4,159.7L1385.1,163.0L1387.9,165.8L1388.8,173.0L1387.9,176.9L1386.2,178.1L1387.9,180.0L1397.9,175.7L1397.9,173.4L1405.0,171.8L1409.3,167.1L1419.2,167.1L1422.1,163.8L1425.8,157.2L1429.2,157.6L1429.7,163.8L1432.0,167.1M265.5,212.9L272.1,212.9L282.9,216.9L290.8,216.9L290.8,215.2L295.7,215.2L301.4,222.2L305.6,224.4L307.0,221.8L311.3,222.8L315.6,229.3L317.0,232.8L322.1,234.4M1289.5,212.9L1296.1,212.9L1306.9,216.9L1314.8,216.9L1314.8,215.2L1319.7,215.2L1325.4,222.2L1329.6,224.4L1331.0,221.8L1335.3,222.8L1339.6,229.3L1341.0,232.8L1346.1,234.4M336.3,269.0L338.3,264.6L341.2,264.3L339.8,261.0L339.8,259.2L344.9,259.2L344.9,264.9L347.4,265.5M1360.3,269.0L1362.3,264.6L1365.2,264.3L1363.8,261.0L1363.8,259.2L1368.9,259.2L1368.9,264.9L1371.4,265.5M344.9,259.2L347.4,257.1M342.3,271.1L344.6,269.3L348.9,271.9M344.9,264.9L344.6,269.3M350.3,273.4L354.0,271.1L358.2,268.4L361.9,267.5M354.8,278.9L359.7,279.8L360.8,279.5M362.8,287.6L363.6,283.6M378.4,285.9L377.0,290.2M394.7,253.2L394.7,258.6M395.8,276.9L392.4,280.7L392.4,286.4L393.8,289.9L399.5,290.7L406.6,293.0L405.7,299.3L408.0,305.0L408.0,307.3L400.1,305.9L400.9,312.1L399.5,322.7L392.4,317.2L384.7,311.0L378.2,309.3L374.5,306.7M384.7,311.0L383.8,315.0L376.7,319.2L373.9,324.9L370.2,320.4M399.5,322.7L391.0,324.9L388.7,331.5L391.5,337.0L398.1,337.8L397.8,342.2L400.9,342.2L402.9,346.5L402.3,353.9L400.9,358.3L400.9,361.3L398.4,363.7M400.9,342.2L412.9,338.7L413.7,345.1L422.2,349.5L426.5,350.3L427.4,357.4L432.8,357.7L433.1,361.3L435.0,363.4L433.6,368.2L434.2,375.2L440.2,375.8L440.7,381.1L444.1,381.1L443.3,386.1L445.6,388.9L445.6,391.2L440.7,394.4L434.8,400.9L439.3,402.9L445.0,406.5L446.7,412.6M400.9,361.3L403.8,367.3L403.8,371.8L407.5,377.3L410.9,374.3L415.1,375.5L420.3,375.5L422.8,368.8L429.4,366.7L433.6,368.2M420.3,375.5L427.9,381.1L434.5,385.1L432.2,391.2L439.3,391.5L443.3,386.1M434.8,400.9L433.1,408.5L432.5,413.6M407.5,377.3L404.3,382.6L403.8,390.5L400.1,397.0L398.6,403.5L399.5,411.3L398.1,418.8L396.6,425.9L395.2,435.0L394.4,446.4L395.2,456.4L392.9,468.9L390.4,477.6L392.9,482.2L395.2,484.5L404.0,485.8M403.5,487.2L403.5,498.3M427.9,286.4L424.2,292.2L425.9,295.9L420.0,299.3L415.1,299.0L416.6,305.0L412.3,308.4L408.0,307.3M425.9,295.9L428.5,297.9L429.4,303.6L431.3,307.0L437.9,305.0L443.6,304.2L449.3,304.2L451.8,298.7M435.9,293.9L433.6,299.3L437.9,305.0M445.0,294.5L443.9,300.7L443.6,304.2M573.6,179.2L575.3,178.4L579.8,179.2L581.0,180.4L579.0,182.6L578.7,187.5L577.3,187.8L578.7,193.0L577.6,196.6M593.5,173.4L596.6,175.4L600.6,175.7L603.4,176.9L607.7,177.3M619.9,171.8L618.5,169.9L618.2,166.7L618.5,163.4L617.9,161.4L616.0,162.2L616.0,160.5L618.5,156.8L620.2,156.4L620.2,154.2L621.9,150.4L616.8,148.2L615.1,148.2L612.3,146.0L610.5,146.0L610.5,144.7L607.1,142.4L605.7,141.1M608.3,139.7L610.8,139.7L612.8,139.2L615.1,140.6L614.8,142.4L615.7,142.4L616.8,144.7L616.0,145.5L617.1,146.9L616.8,148.2M615.7,142.4L616.0,140.6L615.7,137.9L617.9,137.4L618.5,135.6L619.1,131.3M623.3,123.1L626.8,123.6M639.3,128.0L639.6,131.3L638.7,133.2L640.4,136.5L640.4,139.2L641.3,141.5L639.3,141.5L636.1,143.3L633.3,144.7L634.2,146.9L637.0,150.8L637.9,151.7L635.6,153.4L635.0,155.9L635.6,156.8L633.3,156.4L628.5,156.8L625.9,156.8L623.1,155.9L620.2,156.4M618.5,163.4L621.4,163.0L622.8,161.8L624.2,163.4L625.1,161.4L627.3,161.8L628.2,160.5L628.5,159.3L630.5,158.9L633.3,158.9L633.9,160.1L637.6,160.9L640.1,161.4L643.3,160.1L644.4,159.3L645.5,157.2L647.2,155.9L647.2,154.7L646.7,152.1L644.1,151.2L641.3,150.4L640.4,152.1L637.9,151.7M625.9,156.8L625.9,158.5L628.5,159.3M637.6,160.9L637.3,163.8L637.9,164.6M637.3,165.0L639.8,165.0L642.1,165.0L643.3,162.2L645.5,160.9L644.4,159.3M641.3,141.5L644.1,143.3L646.7,144.2L648.9,144.7L652.1,148.2L649.8,150.4L647.0,151.2L646.7,152.1M652.1,148.2L654.9,149.5L656.9,148.6L661.2,149.5L662.9,149.9L663.2,147.7L665.7,144.2L666.9,142.4L665.7,139.2L665.7,136.5L664.6,135.6L666.6,133.7L665.4,128.0L663.5,125.5L654.9,125.5M647.2,154.7L651.8,155.5L654.9,153.8L656.9,152.5L661.5,153.0L662.9,149.9M663.5,125.5L663.2,123.1L659.2,121.1M665.4,128.0L668.0,128.0L671.1,126.5L672.0,123.1L674.3,121.1L674.3,119.1L678.8,117.1L677.4,110.8L676.5,109.8L676.5,102.8L678.5,99.5M658.3,117.1L661.2,115.5L666.9,116.0L669.7,116.5L674.3,119.1M668.0,107.7L670.6,107.1L674.0,109.8L676.5,109.8M678.8,117.1L686.5,119.6L686.2,123.6L689.6,128.5L691.6,130.4L688.2,131.3L689.1,136.5L695.3,135.6L699.6,141.5L702.4,144.7L706.7,146.4L712.4,147.7L711.8,154.7L707.3,158.5M665.7,139.2L669.7,137.4L675.4,138.8L681.1,138.8L685.4,140.2L689.1,136.5M661.5,153.0L663.7,154.7L668.3,155.1L674.3,153.4L678.2,153.4L681.7,155.1L683.9,161.4L678.8,165.0L683.1,166.3M674.3,153.4L676.8,156.8L678.5,160.5L678.8,165.0M663.7,154.7L660.3,158.9L658.3,161.8L656.3,162.6L652.4,163.4L648.4,163.4L645.5,160.9M652.4,163.4L652.9,167.1L652.6,167.5L647.0,166.3L643.5,166.3L644.1,170.3L647.8,173.8L651.2,176.9M652.6,167.5L653.8,170.3L654.1,172.6L651.2,176.9L653.8,179.2M656.3,162.6L659.5,166.3L659.8,167.9L662.6,168.3L663.2,170.3L664.0,171.8L671.1,172.2L675.4,170.7L680.0,172.2M663.2,170.3L662.3,173.0L664.0,174.6L662.3,177.7L664.0,180.0L663.7,181.5L668.3,180.7L672.6,181.5L673.7,180.0L676.8,178.8L678.2,178.8M673.7,180.0L674.3,181.5L672.6,183.8M655.5,187.5L657.5,185.2L658.3,183.0L663.7,181.5M658.3,183.0L656.9,180.7L657.2,178.8L655.5,176.5L653.8,179.2M657.2,178.8L659.8,177.7L662.3,177.7M655.5,176.5L656.9,174.2L654.1,172.6M630.5,102.2L632.2,97.8L634.2,94.9L633.6,90.3L633.3,86.7L632.7,81.3L632.7,76.3L635.6,71.8L638.4,68.5L639.8,61.8L642.7,56.2L645.0,49.0L648.4,43.8L650.4,39.9L655.5,39.9L656.9,35.2L661.2,36.0L665.4,38.4L669.7,38.4L672.6,30.3L678.2,27.9L681.1,34.4L680.8,36.0L683.9,32.0L686.2,29.5M667.4,59.7L666.0,54.8L666.3,47.5L661.2,39.9L656.9,35.2M680.8,36.0L679.7,42.2L683.9,46.0L681.7,52.6L683.9,60.4L683.1,66.5L685.4,70.5L688.2,78.8L683.9,85.5L677.7,93.2M577.8,122.6L575.6,125.1L577.3,127.0L580.7,127.0M716.6,180.7L720.3,180.7L722.3,182.2L722.9,185.6L726.0,187.5L724.6,190.8L724.6,194.0L726.0,196.6L719.2,196.9L712.4,198.0L706.7,198.0L703.0,198.7L701.6,200.8L700.7,201.2M712.4,173.4L719.5,174.2L725.2,176.1L730.6,179.2L734.6,181.9L736.8,179.6M722.3,182.2L726.6,181.9L730.6,179.2M726.6,181.9L728.9,185.6L730.9,188.2L730.9,190.4M726.0,187.5L730.9,190.4L735.1,187.8L737.7,192.2M719.2,196.9L715.8,199.8L715.2,206.4L709.0,209.8L703.3,213.5L700.4,212.2M701.0,205.7L702.7,207.1L700.7,209.8L698.4,210.8M700.7,209.8L699.9,212.2L699.6,216.2L698.2,222.8M696.2,216.9L697.9,222.8M709.0,209.8L710.1,213.9L703.8,216.2L706.7,219.5L705.3,221.2L701.0,223.8L698.2,223.1M710.1,213.9L713.5,214.9L718.1,217.5L725.7,223.8L730.9,224.1L734.3,220.8L735.1,221.2M730.9,224.1L733.7,224.4L736.3,226.1M726.0,196.6L728.0,200.8L729.4,203.6L728.0,206.7L729.4,210.5L733.7,213.5L734.6,217.9L736.6,221.2M720.3,263.4L721.8,260.4L725.2,260.4L732.3,261.6L736.6,258.0L746.5,255.6L755.0,252.6L756.8,246.5L755.6,244.4L747.9,243.4L745.4,239.7M755.6,244.4L757.9,240.3L758.7,237.5M746.5,255.6L749.6,262.8M743.1,238.2L744.5,238.5M751.9,196.2L756.5,193.7L761.3,193.0L767.3,195.5L772.7,198.7L771.0,206.0L771.8,216.2L774.4,217.9L771.8,221.8L774.1,225.4L777.2,227.0L778.4,230.2L777.8,232.2L773.8,236.6M771.8,221.8L776.4,223.1L781.2,222.8L787.2,221.5L787.5,218.2L791.5,216.5L795.7,214.9L796.3,210.8L798.6,209.8L797.7,207.8L800.8,206.4L802.3,202.6L802.0,199.8L807.7,197.6L810.8,197.3L811.6,196.6M772.7,198.7L776.4,203.3L780.6,200.5L782.9,196.6L787.8,195.8L791.5,196.6L795.7,196.9L798.3,195.1L800.0,192.2L801.7,194.0L802.3,198.3L806.2,196.2L811.6,196.6M787.8,195.8L785.8,192.6L780.6,190.1L776.1,186.4L774.7,182.2L769.6,181.1L769.3,178.1L765.0,176.1L763.6,176.9L760.7,181.5L757.9,181.5L756.2,181.5L754.2,178.8L749.4,178.4L747.9,179.6M757.9,181.5L757.9,167.1L765.0,164.6L772.1,169.5L775.0,173.0L783.5,172.2L786.3,175.0L786.6,178.8L792.0,182.2L797.7,178.8L800.6,177.7L807.7,177.3L809.1,174.2L814.2,175.4L823.3,175.7L826.7,178.1L820.5,182.2L816.2,184.5L811.4,184.9L808.5,186.7L808.0,188.6L809.1,191.9L811.9,195.8L811.6,196.6M791.5,196.6L793.2,193.0L792.0,190.1L790.3,188.2L794.9,186.0L799.1,185.6L798.8,182.6L802.8,181.1L806.2,183.4L802.8,185.6L799.4,187.8L808.0,188.6M798.8,182.6L797.7,180.7L800.6,177.7M738.5,161.4L736.6,157.2L733.1,155.5L730.9,153.0L732.3,149.5L732.0,146.0L736.6,143.3L743.1,138.3L750.8,139.2L755.0,142.9L762.2,141.5L768.4,143.8L773.5,142.4L772.1,136.9L771.5,132.3L773.5,127.5L783.5,125.5L794.9,121.1L800.6,127.0L807.7,127.5L807.7,129.9L816.2,126.5L820.2,130.8L826.2,142.4L836.1,141.5L841.2,147.7L846.9,149.5M846.9,149.5L842.7,153.0L842.1,158.5L834.7,158.0L832.7,165.0L827.6,167.5L826.7,178.1M846.9,149.5L853.7,146.4L861.7,142.4L867.4,146.0L875.4,146.9L878.2,143.8L878.2,136.9L889.3,140.2L889.6,143.3L894.4,145.1L903.0,147.3L911.5,149.5L918.6,148.2L924.3,145.1L930.5,146.9M848.3,149.9L850.3,153.4L856.0,156.8L857.4,163.0L857.4,166.3L864.6,167.1L870.2,169.9L873.1,175.7L883.0,176.5L891.6,178.8L897.3,180.4L904.4,177.3L911.5,176.1L917.2,171.8L917.2,167.1L922.9,167.1L928.6,163.0L932.8,160.9L939.4,160.1L939.1,157.6L935.7,154.7L928.6,155.1L927.1,153.8L930.5,146.9M930.5,146.9L933.7,148.2L937.9,144.7L941.9,134.6L942.8,130.8L949.9,129.9L955.6,132.3L961.3,144.7L961.3,146.9L969.8,150.8L971.2,155.9L976.9,154.2L982.6,153.0L979.8,157.6L976.9,166.7L973.5,165.8L971.2,167.9L971.8,173.0L970.1,177.3L967.8,175.0L962.7,178.8L959.6,179.6L957.0,182.6L952.4,186.0M957.3,194.4L959.8,192.6L963.8,191.5M905.8,248.1L902.1,246.5L901.5,243.8L898.1,242.5L896.7,244.1L891.6,245.0L889.3,245.3L888.2,249.0L886.5,248.1L883.0,248.1L880.8,246.2L880.2,243.1L879.3,240.3L876.2,240.3L876.2,237.2L879.3,234.4L879.1,229.0L875.6,226.7M889.3,245.3L891.6,250.2L896.1,251.1L894.4,254.4L898.7,258.0L901.8,262.8L904.4,266.7L904.7,268.4L904.7,274.9L900.1,276.9L899.5,279.2L895.8,281.0M904.7,268.4L900.1,269.6L897.8,269.6L891.6,269.6L889.9,271.6L891.3,277.2M897.8,269.6L899.0,265.8L896.7,263.4L896.7,260.4L892.7,257.4L889.0,258.3L885.9,259.8L886.5,254.1L884.5,253.8L883.3,251.7L884.8,250.2L886.5,248.1M883.3,251.7L879.9,253.2L876.8,256.8L876.2,259.2L879.1,263.1L877.9,266.9L880.8,272.8L881.9,276.9L879.6,281.5M883.3,292.5L886.2,294.5L889.0,293.0M792.6,241.3L799.1,239.1L800.6,238.5L797.7,232.2L798.8,227.7L803.4,227.7L807.4,221.5L810.8,217.9L810.5,212.9L813.1,213.5L809.1,211.2L809.1,207.8L808.5,205.3L817.6,204.3L819.9,202.6L822.5,206.0L823.3,211.2L822.7,216.9L829.0,220.5L826.4,225.1L831.8,228.0L837.5,229.6L842.7,232.2L849.2,232.8L849.2,228.0L843.2,227.7L837.5,223.8L832.4,220.8L829.0,220.5M811.6,196.6L814.8,200.8L819.9,202.6M849.2,228.0L851.5,229.9L854.0,231.8L860.3,231.5L860.6,229.3L859.2,228.3L854.6,227.0L851.5,229.9M860.6,229.3L864.6,225.4L870.2,223.8L872.2,223.1L875.6,226.7L872.2,229.9L869.4,234.1L867.7,237.2L866.5,240.7L864.0,243.4L863.7,245.9L862.0,248.7L861.1,250.5M851.8,246.8L850.9,242.8L849.2,238.8L850.0,235.6L850.3,232.8L854.0,234.1L854.0,236.3L861.4,236.9L860.3,239.1L858.0,240.3L859.2,243.4L861.4,242.8L862.0,248.7M910.4,305.0L911.5,307.3L914.3,307.9L917.7,306.4L922.0,307.0L925.1,305.0L926.3,302.2L927.7,298.7L933.1,298.7M999.7,318.1L999.7,336.7M951.6,337.6L954.4,336.4L953.9,338.4M592.3,204.0L593.5,206.0L593.8,210.1L594.9,213.5L590.1,215.2L588.1,218.2L584.4,221.2L580.1,222.5L573.9,225.4L573.9,229.9L584.9,237.2L602.0,249.3L608.0,255.6L610.5,255.3L615.7,253.2L619.9,249.9L632.7,241.9L639.0,244.7L641.3,243.4L666.9,254.1L666.9,265.5L663.7,265.8L661.2,273.4L663.7,279.2L666.0,285.0L668.3,287.3L670.3,289.3L676.5,296.2L681.1,298.2L686.2,300.7L686.8,300.2L691.0,300.2L695.3,298.7L698.2,295.6L701.0,298.2L706.7,300.5L712.4,299.3L718.1,299.3L726.6,296.5L735.1,287.9L726.6,286.4L720.9,283.6L720.9,279.2M573.9,228.6L561.1,228.6M573.9,234.1L564.5,234.1L564.5,242.2L561.6,243.4L561.6,248.7L550.2,248.7M584.9,237.2L580.1,237.2L583.0,266.1L572.1,266.1L568.2,266.4L565.9,265.8L563.9,268.1L560.2,264.3L557.4,262.8L551.7,264.3M563.9,268.1L566.2,275.2L559.6,274.6L555.9,274.6L551.1,275.4M550.8,271.6L555.9,271.1L559.3,272.2L555.9,272.8L550.8,273.1M559.6,274.6L559.6,277.2L555.9,279.2M566.2,275.2L572.1,275.2L575.0,279.2L575.8,281.5L576.7,286.7L574.4,289.0L571.9,289.6L569.3,286.4L568.2,284.1L563.0,282.7L560.8,285.0M569.3,286.4L565.9,291.0M574.4,289.0L574.7,292.2L577.6,294.2L577.3,298.2M575.8,281.5L581.0,280.7L583.0,281.0L585.8,283.0L590.6,283.3L590.9,287.9L589.5,292.2L589.8,296.2M590.6,283.3L590.6,279.2L598.6,278.9L600.0,283.6L600.3,289.3L602.0,293.3M601.2,279.2L603.2,285.0L603.2,293.0M608.8,277.2L609.1,281.5L606.3,285.0L606.3,292.5M598.6,278.9L601.2,279.2L604.3,277.8L606.6,275.4L608.8,277.2L610.0,273.4L614.2,270.8L618.5,273.4L624.2,274.0L629.9,272.2L637.3,271.4L639.0,275.2L636.1,282.1L633.3,286.7L631.3,291.9L627.0,291.0L623.9,294.2L623.1,297.0M583.0,281.0L583.0,277.8L586.1,274.9L586.7,272.5L590.1,271.4L592.9,269.6L596.6,267.2L599.2,267.5L601.4,271.9L604.9,275.2L606.6,275.4M599.2,267.5L608.6,266.4L610.5,263.1L610.5,255.3M641.3,243.4L642.7,249.6L643.3,252.6L642.7,261.9L637.3,271.4M623.1,197.6L621.9,200.8L622.2,205.3L619.9,207.8L624.2,214.2L625.6,220.2L627.9,215.5L631.3,212.9L631.3,210.8M625.6,220.2L626.8,227.7L626.5,232.5L627.0,237.8L632.7,241.9M670.3,215.9L669.7,223.8L669.7,246.5L669.7,252.6L666.9,252.6L666.9,254.1M669.7,246.5L703.6,246.5M663.7,279.2L660.3,280.7L652.6,285.0L647.0,288.7L642.7,289.3L641.3,285.0L638.4,282.1L641.6,282.1L641.3,277.8L639.8,274.0L637.3,271.4M642.7,289.3L639.8,293.6L640.4,297.6L644.1,303.6L644.7,305.9L636.4,304.4L630.7,304.4L626.5,304.2M630.7,304.4L630.7,307.9L625.9,307.9M636.4,304.4L639.6,307.0L638.4,312.1L639.8,315.0L639.6,317.5L634.2,317.5L631.6,319.2L630.2,321.8M676.5,296.2L669.7,296.5L662.6,299.0L655.5,297.6L651.5,298.5L651.5,300.7L645.5,301.3L644.7,305.9M651.5,300.7L649.8,305.0L649.2,310.7L645.5,315.8L644.1,320.7L641.8,322.9L639.6,324.7L635.6,323.8L633.6,326.9M668.3,285.6L674.0,283.3L678.2,283.8L682.5,282.1L686.8,282.7L690.8,277.2L693.0,275.7L692.5,282.1L695.3,283.6L696.2,280.4L698.2,276.9L701.6,274.0L702.4,269.6L703.8,261.6L708.4,258.6M702.4,269.6L706.7,268.7L712.4,269.0L716.6,272.5L719.2,274.9L717.5,279.2L720.9,279.2L721.5,277.8M695.3,283.6L695.3,287.9L692.5,288.4L698.2,295.6M695.3,298.7L696.7,302.2L698.2,306.4L695.3,310.1L695.3,313.5L705.6,319.2L705.8,320.7L710.1,324.1M718.1,299.3L715.2,302.7L715.2,313.0L716.9,315.5M686.2,300.7L687.3,304.4L683.9,307.9L683.1,312.1L682.8,314.7L685.4,313.8L695.3,313.5M685.4,313.8L686.2,317.2L685.1,317.5L686.2,320.1L683.9,323.2L682.2,323.2L681.7,320.1L681.7,318.1L682.8,314.7M681.7,318.1L685.1,317.5M682.2,323.2L682.8,329.2L685.9,334.1L692.2,337.6L695.3,337.8L697.0,343.9L701.0,344.2L706.7,343.1L713.5,340.7M685.9,334.1L680.8,335.0L679.4,337.3L680.0,344.8L683.4,345.7L683.4,349.2L679.4,346.5L676.0,343.9L670.6,342.8L668.0,343.1L666.9,341.9L661.7,342.8L661.2,338.7L660.6,331.5L656.9,330.7L654.1,333.2L648.7,333.8L645.8,327.5L636.7,327.5L633.6,327.8M666.9,341.9L666.9,348.0L661.2,348.0L661.2,357.4L665.2,361.6L659.5,362.8L650.9,361.0L639.0,361.0L632.2,360.7M658.3,363.7L658.3,374.9L655.5,374.9L655.5,383.6L655.5,395.0L652.6,396.6L648.1,396.0L645.5,395.7M655.5,383.6L657.8,389.9L662.9,387.3L669.1,386.7L672.6,383.2L675.4,379.8L682.2,375.5L677.4,370.3L673.1,365.8L670.6,362.2L665.2,361.6M670.6,362.2L675.4,362.5L680.8,356.8L685.1,355.6L684.5,353.3L693.0,350.9L692.2,348.9L693.3,346.2L692.5,343.3L693.3,339.3L692.2,337.6M697.0,343.9L697.9,349.5L700.4,353.3L700.4,357.4L698.7,360.1L696.7,356.8L696.7,352.4L693.0,350.9M685.1,355.6L691.9,358.9L692.5,362.8L691.6,365.8L692.2,368.8L690.8,372.7L687.6,376.1L682.2,375.5M687.6,376.1L689.6,382.6L689.6,387.3L689.9,389.9L692.2,390.2M689.6,387.3L686.8,386.7L686.2,389.9L687.6,391.5L689.9,389.9M675.4,398.9L679.7,396.0L682.2,398.6L679.7,401.9L676.8,401.5L675.4,398.9"/>
<g fill="#414141" stroke="#151515" stroke-opacity=".75" stroke-width="2" stroke-linejoin="round" paint-order="stroke" font-family="&quot;Liberation Sans&quot;, &quot;Noto Sans CJK SC&quot;, sans-serif" font-size="12.7" font-weight="bold">
<text x="298.8" y="153.5" textLength="52.6" lengthAdjust="spacing">NORTH</text>
<text x="1322.8" y="153.5" textLength="52.6" lengthAdjust="spacing">NORTH</text>
<text x="290.3" y="170.7" textLength="69.6" lengthAdjust="spacing">AMERICA</text>
<text x="1314.3" y="170.7" textLength="69.6" lengthAdjust="spacing">AMERICA</text>
<text x="337" y="290.9" textLength="69.9" lengthAdjust="spacing">AMÉRICA</text>
<text x="597.3" y="172.6" textLength="60.6" lengthAdjust="spacing">EUROPE</text>
<text x="617.4" y="276.2" textLength="65.3" lengthAdjust="spacing">AFRIKA /</text>
<text x="649.2" y="291.9" text-anchor="middle" direction="rtl" font-size="12.5" font-family="&quot;Liberation Sans&quot;, &quot;DejaVu Sans&quot;, sans-serif">أفريقيا</text>
<text x="390.7" y="361.1" textLength="70" lengthAdjust="spacing">AMÉRICA</text>
<text x="361.4" y="378.1" textLength="128.6" lengthAdjust="spacing">DO SUL;AMÉRICA</text>
<text x="394.4" y="395.2" textLength="62.6" lengthAdjust="spacing">DEL SUR</text>
<text x="34.8" y="378.2" textLength="69.1" lengthAdjust="spacing">OCEANIA</text>
<text x="1058.8" y="378.2" textLength="69.1" lengthAdjust="spacing">OCEANIA</text>
<text x="-78" y="390.1" textLength="84.2" lengthAdjust="spacing">AUSTRALIA</text>
<text x="946" y="390.1" textLength="84.2" lengthAdjust="spacing">AUSTRALIA</text>
<text x="853" y="147.3" text-anchor="middle" font-size="13" font-weight="normal">亚洲</text>
</g>
</svg>
<div class="mk" style="left:320.0px;top:191.1px;width:19.0px;height:19.0px;border-width:2.0px;background:#8b949e;box-shadow:0 0 5px 4px rgba(200,225,210,.6),0 0 9px 8px rgba(160,205,180,.38)"><i></i></div>
<div class="mk" style="left:351.9px;top:202.1px;width:19.0px;height:19.0px;border-width:2.0px;background:#3fb950;box-shadow:0 0 5px 1px rgba(63,185,80,.7)"><i></i></div>
<div class="mk" style="left:582.1px;top:113.7px;width:19.4px;height:19.4px;border-width:2.2px;background:#8b949e;box-shadow:0 0 5px 2px rgba(200,225,245,.6)"><i></i></div>
<div class="mk" style="left:605.3px;top:128.0px;width:19.0px;height:19.0px;border-width:2.0px;background:#9aa2ac;box-shadow:-1px -1px 5px 1.5px rgba(130,165,225,.5)"><i></i></div>
<div class="mk" style="left:606.5px;top:129.3px;width:19.2px;height:19.2px;border-width:2.1px;background:#8b949e;box-shadow:1.5px 1.5px 5px 1.5px rgba(248,100,90,.4)"><i></i></div>
<div class="mk" style="left:598.1px;top:143.5px;width:19.4px;height:19.4px;border-width:2.2px;background:#8b949e;box-shadow:0 0 5px 1.5px rgba(248,130,120,.45)"><i></i></div>
<div class="mk" style="left:629.7px;top:127.8px;width:19.4px;height:19.4px;border-width:2.2px;background:#8b949e;box-shadow:0 0 6px 2px rgba(248,81,73,.6)"><i></i></div>
<div class="mk" style="left:644.2px;top:92.6px;width:19.0px;height:19.0px;border-width:2.0px;background:#8b949e;box-shadow:none"><i></i></div>
<div class="mk" style="left:643.0px;top:93.6px;width:19.2px;height:19.2px;border-width:2.1px;background:#8b949e;box-shadow:0 0 6px 3px rgba(245,220,220,.6)"><i></i></div>
<div class="mk" style="left:662.9px;top:87.8px;width:19.0px;height:19.0px;border-width:2.0px;background:#8b949e;box-shadow:0 0 4px 1px rgba(210,210,220,.4)"><i></i></div>
<div class="mk" style="left:664.9px;top:168.8px;width:19.0px;height:19.0px;border-width:2.0px;background:#f0883e;box-shadow:0 0 5px 1px rgba(240,136,62,.7)"><i></i></div>
<div class="mk" style="left:890.9px;top:80.5px;width:19.4px;height:19.4px;border-width:2.2px;background:#8b949e;box-shadow:0 0 5px 2px rgba(248,140,140,.7)"><i></i></div>
<div class="mk" style="left:985.0px;top:192.5px;width:20.0px;height:20.0px;border-width:2.6px;background:#8b949e;box-shadow:0 0 6px 1.5px rgba(240,136,62,.75)"><i></i></div>
<div class="mk" style="left:816.2px;top:243.5px;width:19.6px;height:19.6px;border-width:2.4px;background:#8b949e;box-shadow:0 0 5px 1.5px rgba(255,215,185,.55)"><i></i></div>
<div class="mk" style="left:916.8px;top:239.0px;width:19.0px;height:19.0px;border-width:2.0px;background:#f0883e;box-shadow:0 0 5px 1px rgba(240,136,62,.6)"><i></i></div>
<div class="mk" style="left:886.8px;top:299.8px;width:19.4px;height:19.4px;border-width:2.2px;background:#8b949e;box-shadow:0 0 5px 2px rgba(255,225,205,.6)"><i></i></div>
<div class="mk" style="left:443.9px;top:345.0px;width:19.0px;height:19.0px;border-width:2.0px;background:#8b949e;box-shadow:0 0 5px 1.5px rgba(200,205,215,.38)"><i></i></div>
<div class="mk" style="left:1021.7px;top:406.0px;width:19.0px;height:19.0px;border-width:2.0px;background:#f0883e;box-shadow:0 0 5px 1px rgba(240,136,62,.6)"><i></i></div>
<div class="zc"><div class="zi"><b style="left:8.5px;top:13.9px;width:13.6px;height:2.3px"></b><b style="left:13.6px;top:9px;width:3.1px;height:12px"></b></div><div class="zo"><b style="left:9.3px;top:13.7px;width:13.6px;height:2.4px"></b></div></div>
</div>

</body></html>
